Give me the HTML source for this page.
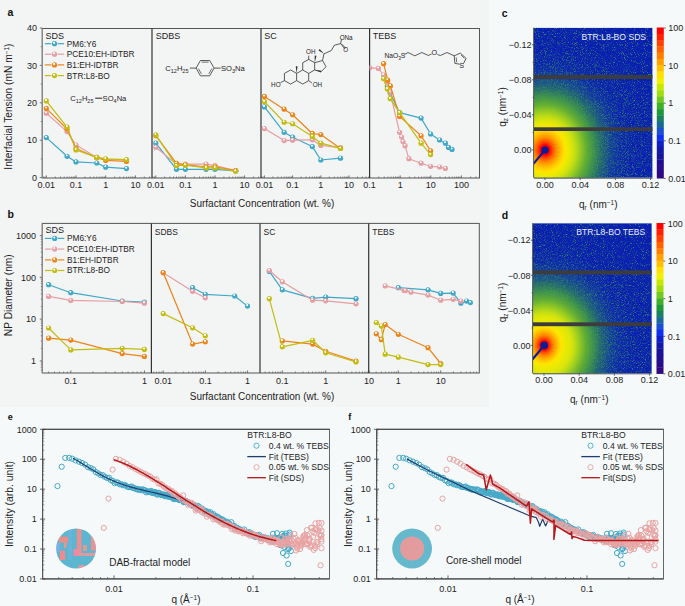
<!DOCTYPE html><html><head><meta charset="utf-8"><style>html,body{margin:0;padding:0;background:#f5f9fa;}svg{display:block;font-family:"Liberation Sans", sans-serif;}</style></head><body>
<svg width="685" height="606" viewBox="0 0 685 606">
<defs>
<radialGradient id="gb" cx="0.45" cy="0.38" r="0.62" fx="0.42" fy="0.3"><stop offset="0" stop-color="#ffffff"/><stop offset="0.22" stop-color="#ffffff" stop-opacity="0.9"/><stop offset="0.38" stop-color="#3fa8c9" stop-opacity="0.9"/><stop offset="0.55" stop-color="#3fa8c9"/><stop offset="1" stop-color="#3fa8c9"/></radialGradient>
<radialGradient id="gp" cx="0.45" cy="0.38" r="0.62" fx="0.42" fy="0.3"><stop offset="0" stop-color="#ffffff"/><stop offset="0.22" stop-color="#ffffff" stop-opacity="0.9"/><stop offset="0.38" stop-color="#e69ea3" stop-opacity="0.9"/><stop offset="0.55" stop-color="#e69ea3"/><stop offset="1" stop-color="#e69ea3"/></radialGradient>
<radialGradient id="go" cx="0.45" cy="0.38" r="0.62" fx="0.42" fy="0.3"><stop offset="0" stop-color="#ffffff"/><stop offset="0.22" stop-color="#ffffff" stop-opacity="0.9"/><stop offset="0.38" stop-color="#ee8419" stop-opacity="0.9"/><stop offset="0.55" stop-color="#ee8419"/><stop offset="1" stop-color="#ee8419"/></radialGradient>
<radialGradient id="gy" cx="0.45" cy="0.38" r="0.62" fx="0.42" fy="0.3"><stop offset="0" stop-color="#ffffff"/><stop offset="0.22" stop-color="#ffffff" stop-opacity="0.9"/><stop offset="0.38" stop-color="#c2bd10" stop-opacity="0.9"/><stop offset="0.55" stop-color="#c2bd10"/><stop offset="1" stop-color="#c2bd10"/></radialGradient>
</defs>
<rect x="0" y="0" width="685" height="606" fill="#f5f9fa"/>
<rect x="0" y="0" width="489" height="407" fill="#f3f4f4"/>
<text x="7.6" y="16.38" font-size="10.5" text-anchor="start" fill="#111" font-weight="bold">a</text>
<line x1="39.8" y1="177.6" x2="42.3" y2="177.6" stroke="#555" stroke-width="0.8"/>
<text x="37" y="180.84" font-size="9" text-anchor="end" fill="#1e1e1e">0</text>
<line x1="39.8" y1="140.2" x2="42.3" y2="140.2" stroke="#555" stroke-width="0.8"/>
<text x="37" y="143.44" font-size="9" text-anchor="end" fill="#1e1e1e">10</text>
<line x1="39.8" y1="102.8" x2="42.3" y2="102.8" stroke="#555" stroke-width="0.8"/>
<text x="37" y="106.04" font-size="9" text-anchor="end" fill="#1e1e1e">20</text>
<line x1="39.8" y1="65.4" x2="42.3" y2="65.4" stroke="#555" stroke-width="0.8"/>
<text x="37" y="68.64" font-size="9" text-anchor="end" fill="#1e1e1e">30</text>
<line x1="39.8" y1="28" x2="42.3" y2="28" stroke="#555" stroke-width="0.8"/>
<text x="37" y="31.24" font-size="9" text-anchor="end" fill="#1e1e1e">40</text>
<line x1="40.8" y1="158.9" x2="42.3" y2="158.9" stroke="#555" stroke-width="0.8"/>
<line x1="40.8" y1="121.5" x2="42.3" y2="121.5" stroke="#555" stroke-width="0.8"/>
<line x1="40.8" y1="84.1" x2="42.3" y2="84.1" stroke="#555" stroke-width="0.8"/>
<line x1="40.8" y1="46.7" x2="42.3" y2="46.7" stroke="#555" stroke-width="0.8"/>
<line x1="46.3" y1="178" x2="46.3" y2="175.4" stroke="#555" stroke-width="0.8"/>
<text x="46.3" y="188.24" font-size="9" text-anchor="middle" fill="#1e1e1e">0.01</text>
<line x1="76" y1="178" x2="76" y2="175.4" stroke="#555" stroke-width="0.8"/>
<text x="76" y="188.24" font-size="9" text-anchor="middle" fill="#1e1e1e">0.1</text>
<line x1="105.7" y1="178" x2="105.7" y2="175.4" stroke="#555" stroke-width="0.8"/>
<text x="105.7" y="188.24" font-size="9" text-anchor="middle" fill="#1e1e1e">1</text>
<line x1="135.4" y1="178" x2="135.4" y2="175.4" stroke="#555" stroke-width="0.8"/>
<text x="135.4" y="188.24" font-size="9" text-anchor="middle" fill="#1e1e1e">10</text>
<line x1="43.42" y1="178" x2="43.42" y2="176.5" stroke="#555" stroke-width="0.7"/>
<line x1="44.94" y1="178" x2="44.94" y2="176.5" stroke="#555" stroke-width="0.7"/>
<line x1="55.24" y1="178" x2="55.24" y2="176.5" stroke="#555" stroke-width="0.7"/>
<line x1="60.47" y1="178" x2="60.47" y2="176.5" stroke="#555" stroke-width="0.7"/>
<line x1="64.18" y1="178" x2="64.18" y2="176.5" stroke="#555" stroke-width="0.7"/>
<line x1="67.06" y1="178" x2="67.06" y2="176.5" stroke="#555" stroke-width="0.7"/>
<line x1="69.41" y1="178" x2="69.41" y2="176.5" stroke="#555" stroke-width="0.7"/>
<line x1="71.4" y1="178" x2="71.4" y2="176.5" stroke="#555" stroke-width="0.7"/>
<line x1="73.12" y1="178" x2="73.12" y2="176.5" stroke="#555" stroke-width="0.7"/>
<line x1="74.64" y1="178" x2="74.64" y2="176.5" stroke="#555" stroke-width="0.7"/>
<line x1="84.94" y1="178" x2="84.94" y2="176.5" stroke="#555" stroke-width="0.7"/>
<line x1="90.17" y1="178" x2="90.17" y2="176.5" stroke="#555" stroke-width="0.7"/>
<line x1="93.88" y1="178" x2="93.88" y2="176.5" stroke="#555" stroke-width="0.7"/>
<line x1="96.76" y1="178" x2="96.76" y2="176.5" stroke="#555" stroke-width="0.7"/>
<line x1="99.11" y1="178" x2="99.11" y2="176.5" stroke="#555" stroke-width="0.7"/>
<line x1="101.1" y1="178" x2="101.1" y2="176.5" stroke="#555" stroke-width="0.7"/>
<line x1="102.82" y1="178" x2="102.82" y2="176.5" stroke="#555" stroke-width="0.7"/>
<line x1="104.34" y1="178" x2="104.34" y2="176.5" stroke="#555" stroke-width="0.7"/>
<line x1="114.64" y1="178" x2="114.64" y2="176.5" stroke="#555" stroke-width="0.7"/>
<line x1="119.87" y1="178" x2="119.87" y2="176.5" stroke="#555" stroke-width="0.7"/>
<line x1="123.58" y1="178" x2="123.58" y2="176.5" stroke="#555" stroke-width="0.7"/>
<line x1="126.46" y1="178" x2="126.46" y2="176.5" stroke="#555" stroke-width="0.7"/>
<line x1="128.81" y1="178" x2="128.81" y2="176.5" stroke="#555" stroke-width="0.7"/>
<line x1="130.8" y1="178" x2="130.8" y2="176.5" stroke="#555" stroke-width="0.7"/>
<line x1="132.52" y1="178" x2="132.52" y2="176.5" stroke="#555" stroke-width="0.7"/>
<line x1="134.04" y1="178" x2="134.04" y2="176.5" stroke="#555" stroke-width="0.7"/>
<line x1="144.34" y1="178" x2="144.34" y2="176.5" stroke="#555" stroke-width="0.7"/>
<line x1="149.57" y1="178" x2="149.57" y2="176.5" stroke="#555" stroke-width="0.7"/>
<line x1="155.8" y1="178" x2="155.8" y2="175.4" stroke="#555" stroke-width="0.8"/>
<text x="155.8" y="188.24" font-size="9" text-anchor="middle" fill="#1e1e1e">0.01</text>
<line x1="185.4" y1="178" x2="185.4" y2="175.4" stroke="#555" stroke-width="0.8"/>
<text x="185.4" y="188.24" font-size="9" text-anchor="middle" fill="#1e1e1e">0.1</text>
<line x1="215" y1="178" x2="215" y2="175.4" stroke="#555" stroke-width="0.8"/>
<text x="215" y="188.24" font-size="9" text-anchor="middle" fill="#1e1e1e">1</text>
<line x1="244.6" y1="178" x2="244.6" y2="175.4" stroke="#555" stroke-width="0.8"/>
<text x="244.6" y="188.24" font-size="9" text-anchor="middle" fill="#1e1e1e">10</text>
<line x1="152.93" y1="178" x2="152.93" y2="176.5" stroke="#555" stroke-width="0.7"/>
<line x1="154.45" y1="178" x2="154.45" y2="176.5" stroke="#555" stroke-width="0.7"/>
<line x1="164.71" y1="178" x2="164.71" y2="176.5" stroke="#555" stroke-width="0.7"/>
<line x1="169.92" y1="178" x2="169.92" y2="176.5" stroke="#555" stroke-width="0.7"/>
<line x1="173.62" y1="178" x2="173.62" y2="176.5" stroke="#555" stroke-width="0.7"/>
<line x1="176.49" y1="178" x2="176.49" y2="176.5" stroke="#555" stroke-width="0.7"/>
<line x1="178.83" y1="178" x2="178.83" y2="176.5" stroke="#555" stroke-width="0.7"/>
<line x1="180.81" y1="178" x2="180.81" y2="176.5" stroke="#555" stroke-width="0.7"/>
<line x1="182.53" y1="178" x2="182.53" y2="176.5" stroke="#555" stroke-width="0.7"/>
<line x1="184.05" y1="178" x2="184.05" y2="176.5" stroke="#555" stroke-width="0.7"/>
<line x1="194.31" y1="178" x2="194.31" y2="176.5" stroke="#555" stroke-width="0.7"/>
<line x1="199.52" y1="178" x2="199.52" y2="176.5" stroke="#555" stroke-width="0.7"/>
<line x1="203.22" y1="178" x2="203.22" y2="176.5" stroke="#555" stroke-width="0.7"/>
<line x1="206.09" y1="178" x2="206.09" y2="176.5" stroke="#555" stroke-width="0.7"/>
<line x1="208.43" y1="178" x2="208.43" y2="176.5" stroke="#555" stroke-width="0.7"/>
<line x1="210.41" y1="178" x2="210.41" y2="176.5" stroke="#555" stroke-width="0.7"/>
<line x1="212.13" y1="178" x2="212.13" y2="176.5" stroke="#555" stroke-width="0.7"/>
<line x1="213.65" y1="178" x2="213.65" y2="176.5" stroke="#555" stroke-width="0.7"/>
<line x1="223.91" y1="178" x2="223.91" y2="176.5" stroke="#555" stroke-width="0.7"/>
<line x1="229.12" y1="178" x2="229.12" y2="176.5" stroke="#555" stroke-width="0.7"/>
<line x1="232.82" y1="178" x2="232.82" y2="176.5" stroke="#555" stroke-width="0.7"/>
<line x1="235.69" y1="178" x2="235.69" y2="176.5" stroke="#555" stroke-width="0.7"/>
<line x1="238.03" y1="178" x2="238.03" y2="176.5" stroke="#555" stroke-width="0.7"/>
<line x1="240.01" y1="178" x2="240.01" y2="176.5" stroke="#555" stroke-width="0.7"/>
<line x1="241.73" y1="178" x2="241.73" y2="176.5" stroke="#555" stroke-width="0.7"/>
<line x1="243.25" y1="178" x2="243.25" y2="176.5" stroke="#555" stroke-width="0.7"/>
<line x1="253.51" y1="178" x2="253.51" y2="176.5" stroke="#555" stroke-width="0.7"/>
<line x1="258.72" y1="178" x2="258.72" y2="176.5" stroke="#555" stroke-width="0.7"/>
<line x1="264.4" y1="178" x2="264.4" y2="175.4" stroke="#555" stroke-width="0.8"/>
<text x="264.4" y="188.24" font-size="9" text-anchor="middle" fill="#1e1e1e">0.01</text>
<line x1="292.6" y1="178" x2="292.6" y2="175.4" stroke="#555" stroke-width="0.8"/>
<text x="292.6" y="188.24" font-size="9" text-anchor="middle" fill="#1e1e1e">0.1</text>
<line x1="320.8" y1="178" x2="320.8" y2="175.4" stroke="#555" stroke-width="0.8"/>
<text x="320.8" y="188.24" font-size="9" text-anchor="middle" fill="#1e1e1e">1</text>
<line x1="349" y1="178" x2="349" y2="175.4" stroke="#555" stroke-width="0.8"/>
<text x="349" y="188.24" font-size="9" text-anchor="middle" fill="#1e1e1e">10</text>
<line x1="261.67" y1="178" x2="261.67" y2="176.5" stroke="#555" stroke-width="0.7"/>
<line x1="263.11" y1="178" x2="263.11" y2="176.5" stroke="#555" stroke-width="0.7"/>
<line x1="272.89" y1="178" x2="272.89" y2="176.5" stroke="#555" stroke-width="0.7"/>
<line x1="277.85" y1="178" x2="277.85" y2="176.5" stroke="#555" stroke-width="0.7"/>
<line x1="281.38" y1="178" x2="281.38" y2="176.5" stroke="#555" stroke-width="0.7"/>
<line x1="284.11" y1="178" x2="284.11" y2="176.5" stroke="#555" stroke-width="0.7"/>
<line x1="286.34" y1="178" x2="286.34" y2="176.5" stroke="#555" stroke-width="0.7"/>
<line x1="288.23" y1="178" x2="288.23" y2="176.5" stroke="#555" stroke-width="0.7"/>
<line x1="289.87" y1="178" x2="289.87" y2="176.5" stroke="#555" stroke-width="0.7"/>
<line x1="291.31" y1="178" x2="291.31" y2="176.5" stroke="#555" stroke-width="0.7"/>
<line x1="301.09" y1="178" x2="301.09" y2="176.5" stroke="#555" stroke-width="0.7"/>
<line x1="306.05" y1="178" x2="306.05" y2="176.5" stroke="#555" stroke-width="0.7"/>
<line x1="309.58" y1="178" x2="309.58" y2="176.5" stroke="#555" stroke-width="0.7"/>
<line x1="312.31" y1="178" x2="312.31" y2="176.5" stroke="#555" stroke-width="0.7"/>
<line x1="314.54" y1="178" x2="314.54" y2="176.5" stroke="#555" stroke-width="0.7"/>
<line x1="316.43" y1="178" x2="316.43" y2="176.5" stroke="#555" stroke-width="0.7"/>
<line x1="318.07" y1="178" x2="318.07" y2="176.5" stroke="#555" stroke-width="0.7"/>
<line x1="319.51" y1="178" x2="319.51" y2="176.5" stroke="#555" stroke-width="0.7"/>
<line x1="329.29" y1="178" x2="329.29" y2="176.5" stroke="#555" stroke-width="0.7"/>
<line x1="334.25" y1="178" x2="334.25" y2="176.5" stroke="#555" stroke-width="0.7"/>
<line x1="337.78" y1="178" x2="337.78" y2="176.5" stroke="#555" stroke-width="0.7"/>
<line x1="340.51" y1="178" x2="340.51" y2="176.5" stroke="#555" stroke-width="0.7"/>
<line x1="342.74" y1="178" x2="342.74" y2="176.5" stroke="#555" stroke-width="0.7"/>
<line x1="344.63" y1="178" x2="344.63" y2="176.5" stroke="#555" stroke-width="0.7"/>
<line x1="346.27" y1="178" x2="346.27" y2="176.5" stroke="#555" stroke-width="0.7"/>
<line x1="347.71" y1="178" x2="347.71" y2="176.5" stroke="#555" stroke-width="0.7"/>
<line x1="357.49" y1="178" x2="357.49" y2="176.5" stroke="#555" stroke-width="0.7"/>
<line x1="362.45" y1="178" x2="362.45" y2="176.5" stroke="#555" stroke-width="0.7"/>
<line x1="365.98" y1="178" x2="365.98" y2="176.5" stroke="#555" stroke-width="0.7"/>
<line x1="368.71" y1="178" x2="368.71" y2="176.5" stroke="#555" stroke-width="0.7"/>
<line x1="369.6" y1="178" x2="369.6" y2="175.4" stroke="#555" stroke-width="0.8"/>
<text x="369.6" y="188.24" font-size="9" text-anchor="middle" fill="#1e1e1e">0.1</text>
<line x1="400.2" y1="178" x2="400.2" y2="175.4" stroke="#555" stroke-width="0.8"/>
<text x="400.2" y="188.24" font-size="9" text-anchor="middle" fill="#1e1e1e">1</text>
<line x1="430.8" y1="178" x2="430.8" y2="175.4" stroke="#555" stroke-width="0.8"/>
<text x="430.8" y="188.24" font-size="9" text-anchor="middle" fill="#1e1e1e">10</text>
<line x1="461.4" y1="178" x2="461.4" y2="175.4" stroke="#555" stroke-width="0.8"/>
<text x="461.4" y="188.24" font-size="9" text-anchor="middle" fill="#1e1e1e">100</text>
<line x1="378.81" y1="178" x2="378.81" y2="176.5" stroke="#555" stroke-width="0.7"/>
<line x1="384.2" y1="178" x2="384.2" y2="176.5" stroke="#555" stroke-width="0.7"/>
<line x1="388.02" y1="178" x2="388.02" y2="176.5" stroke="#555" stroke-width="0.7"/>
<line x1="390.99" y1="178" x2="390.99" y2="176.5" stroke="#555" stroke-width="0.7"/>
<line x1="393.41" y1="178" x2="393.41" y2="176.5" stroke="#555" stroke-width="0.7"/>
<line x1="395.46" y1="178" x2="395.46" y2="176.5" stroke="#555" stroke-width="0.7"/>
<line x1="397.23" y1="178" x2="397.23" y2="176.5" stroke="#555" stroke-width="0.7"/>
<line x1="398.8" y1="178" x2="398.8" y2="176.5" stroke="#555" stroke-width="0.7"/>
<line x1="409.41" y1="178" x2="409.41" y2="176.5" stroke="#555" stroke-width="0.7"/>
<line x1="414.8" y1="178" x2="414.8" y2="176.5" stroke="#555" stroke-width="0.7"/>
<line x1="418.62" y1="178" x2="418.62" y2="176.5" stroke="#555" stroke-width="0.7"/>
<line x1="421.59" y1="178" x2="421.59" y2="176.5" stroke="#555" stroke-width="0.7"/>
<line x1="424.01" y1="178" x2="424.01" y2="176.5" stroke="#555" stroke-width="0.7"/>
<line x1="426.06" y1="178" x2="426.06" y2="176.5" stroke="#555" stroke-width="0.7"/>
<line x1="427.83" y1="178" x2="427.83" y2="176.5" stroke="#555" stroke-width="0.7"/>
<line x1="429.4" y1="178" x2="429.4" y2="176.5" stroke="#555" stroke-width="0.7"/>
<line x1="440.01" y1="178" x2="440.01" y2="176.5" stroke="#555" stroke-width="0.7"/>
<line x1="445.4" y1="178" x2="445.4" y2="176.5" stroke="#555" stroke-width="0.7"/>
<line x1="449.22" y1="178" x2="449.22" y2="176.5" stroke="#555" stroke-width="0.7"/>
<line x1="452.19" y1="178" x2="452.19" y2="176.5" stroke="#555" stroke-width="0.7"/>
<line x1="454.61" y1="178" x2="454.61" y2="176.5" stroke="#555" stroke-width="0.7"/>
<line x1="456.66" y1="178" x2="456.66" y2="176.5" stroke="#555" stroke-width="0.7"/>
<line x1="458.43" y1="178" x2="458.43" y2="176.5" stroke="#555" stroke-width="0.7"/>
<line x1="460" y1="178" x2="460" y2="176.5" stroke="#555" stroke-width="0.7"/>
<line x1="470.61" y1="178" x2="470.61" y2="176.5" stroke="#555" stroke-width="0.7"/>
<line x1="476" y1="178" x2="476" y2="176.5" stroke="#555" stroke-width="0.7"/>
<rect x="42.3" y="28.5" width="437.2" height="149.5" fill="none" stroke="#555" stroke-width="1"/>
<line x1="152" y1="28.5" x2="152" y2="178" stroke="#333" stroke-width="1.2"/>
<line x1="261" y1="28.5" x2="261" y2="178" stroke="#333" stroke-width="1.2"/>
<line x1="369.6" y1="28.5" x2="369.6" y2="178" stroke="#333" stroke-width="1.2"/>
<line x1="42.3" y1="28.5" x2="42.3" y2="178" stroke="#8a8a8a" stroke-width="1.3"/>
<text x="262" y="206.6" font-size="10" text-anchor="middle" fill="#1e1e1e">Surfactant Concentration (wt. %)</text>
<text transform="translate(12.4,106.6) rotate(-90)" font-size="10.2" text-anchor="middle" fill="#1e1e1e">Interfacial Tension (mN m<tspan dy="-3" font-size="6.5">−1</tspan><tspan dy="3">)</tspan></text>
<text x="45.6" y="38.54" font-size="9" text-anchor="start" fill="#1e1e1e">SDS</text>
<text x="155.8" y="38.54" font-size="9" text-anchor="start" fill="#1e1e1e">SDBS</text>
<text x="264.3" y="38.54" font-size="9" text-anchor="start" fill="#1e1e1e">SC</text>
<text x="372.8" y="38.54" font-size="9" text-anchor="start" fill="#1e1e1e">TEBS</text>
<line x1="44.8" y1="43.7" x2="51.3" y2="43.7" stroke="#3fa8c9" stroke-width="1.2"/>
<line x1="57.6" y1="43.7" x2="64.1" y2="43.7" stroke="#3fa8c9" stroke-width="1.2"/>
<circle cx="54.5" cy="43.7" r="2.6" fill="url(#gb)"/>
<text x="66.8" y="46.69" font-size="8.3" text-anchor="start" fill="#1e1e1e">PM6:Y6</text>
<line x1="44.8" y1="54.2" x2="51.3" y2="54.2" stroke="#e69ea3" stroke-width="1.2"/>
<line x1="57.6" y1="54.2" x2="64.1" y2="54.2" stroke="#e69ea3" stroke-width="1.2"/>
<circle cx="54.5" cy="54.2" r="2.6" fill="url(#gp)"/>
<text x="66.8" y="57.19" font-size="8.3" text-anchor="start" fill="#1e1e1e">PCE10:EH-IDTBR</text>
<line x1="44.8" y1="64.9" x2="51.3" y2="64.9" stroke="#ee8419" stroke-width="1.2"/>
<line x1="57.6" y1="64.9" x2="64.1" y2="64.9" stroke="#ee8419" stroke-width="1.2"/>
<circle cx="54.5" cy="64.9" r="2.6" fill="url(#go)"/>
<text x="66.8" y="67.89" font-size="8.3" text-anchor="start" fill="#1e1e1e">B1:EH-IDTBR</text>
<line x1="44.8" y1="75.6" x2="51.3" y2="75.6" stroke="#c2bd10" stroke-width="1.2"/>
<line x1="57.6" y1="75.6" x2="64.1" y2="75.6" stroke="#c2bd10" stroke-width="1.2"/>
<circle cx="54.5" cy="75.6" r="2.6" fill="url(#gy)"/>
<text x="66.8" y="78.59" font-size="8.3" text-anchor="start" fill="#1e1e1e">BTR:L8-BO</text>
<polyline fill="none" stroke="#3fa8c9" stroke-width="1.2" stroke-linejoin="round" points="46.3,137.58 67.06,156.28 76,161.89 96.76,163.01 105.7,167.13 126.46,168.62"/>
<circle cx="46.3" cy="137.58" r="2.6" fill="url(#gb)"/>
<circle cx="67.06" cy="156.28" r="2.6" fill="url(#gb)"/>
<circle cx="76" cy="161.89" r="2.6" fill="url(#gb)"/>
<circle cx="96.76" cy="163.01" r="2.6" fill="url(#gb)"/>
<circle cx="105.7" cy="167.13" r="2.6" fill="url(#gb)"/>
<circle cx="126.46" cy="168.62" r="2.6" fill="url(#gb)"/>
<polyline fill="none" stroke="#e69ea3" stroke-width="1.2" stroke-linejoin="round" points="46.3,113.27 67.06,131.6 76,145.06 96.76,157.4 105.7,159.27 126.46,160.4"/>
<circle cx="46.3" cy="113.27" r="2.6" fill="url(#gp)"/>
<circle cx="67.06" cy="131.6" r="2.6" fill="url(#gp)"/>
<circle cx="76" cy="145.06" r="2.6" fill="url(#gp)"/>
<circle cx="96.76" cy="157.4" r="2.6" fill="url(#gp)"/>
<circle cx="105.7" cy="159.27" r="2.6" fill="url(#gp)"/>
<circle cx="126.46" cy="160.4" r="2.6" fill="url(#gp)"/>
<polyline fill="none" stroke="#ee8419" stroke-width="1.2" stroke-linejoin="round" points="46.3,108.41 67.06,128.98 76,148.43 96.76,157.78 105.7,160.4 126.46,161.52"/>
<circle cx="46.3" cy="108.41" r="2.6" fill="url(#go)"/>
<circle cx="67.06" cy="128.98" r="2.6" fill="url(#go)"/>
<circle cx="76" cy="148.43" r="2.6" fill="url(#go)"/>
<circle cx="96.76" cy="157.78" r="2.6" fill="url(#go)"/>
<circle cx="105.7" cy="160.4" r="2.6" fill="url(#go)"/>
<circle cx="126.46" cy="161.52" r="2.6" fill="url(#go)"/>
<polyline fill="none" stroke="#c2bd10" stroke-width="1.2" stroke-linejoin="round" points="46.3,100.93 67.06,127.11 76,149.92 96.76,157.4 105.7,158.9 126.46,159.65"/>
<circle cx="46.3" cy="100.93" r="2.6" fill="url(#gy)"/>
<circle cx="67.06" cy="127.11" r="2.6" fill="url(#gy)"/>
<circle cx="76" cy="149.92" r="2.6" fill="url(#gy)"/>
<circle cx="96.76" cy="157.4" r="2.6" fill="url(#gy)"/>
<circle cx="105.7" cy="158.9" r="2.6" fill="url(#gy)"/>
<circle cx="126.46" cy="159.65" r="2.6" fill="url(#gy)"/>
<polyline fill="none" stroke="#3fa8c9" stroke-width="1.2" stroke-linejoin="round" points="155.8,143.19 176.49,169.37 185.4,169.37 206.09,169.37 215,169.37 235.69,170.87"/>
<circle cx="155.8" cy="143.19" r="2.6" fill="url(#gb)"/>
<circle cx="176.49" cy="169.37" r="2.6" fill="url(#gb)"/>
<circle cx="185.4" cy="169.37" r="2.6" fill="url(#gb)"/>
<circle cx="206.09" cy="169.37" r="2.6" fill="url(#gb)"/>
<circle cx="215" cy="169.37" r="2.6" fill="url(#gb)"/>
<circle cx="235.69" cy="170.87" r="2.6" fill="url(#gb)"/>
<polyline fill="none" stroke="#e69ea3" stroke-width="1.2" stroke-linejoin="round" points="155.8,147.31 176.49,164.14 185.4,164.14 206.09,164.14 215,165.63 235.69,170.49"/>
<circle cx="155.8" cy="147.31" r="2.6" fill="url(#gp)"/>
<circle cx="176.49" cy="164.14" r="2.6" fill="url(#gp)"/>
<circle cx="185.4" cy="164.14" r="2.6" fill="url(#gp)"/>
<circle cx="206.09" cy="164.14" r="2.6" fill="url(#gp)"/>
<circle cx="215" cy="165.63" r="2.6" fill="url(#gp)"/>
<circle cx="235.69" cy="170.49" r="2.6" fill="url(#gp)"/>
<polyline fill="none" stroke="#ee8419" stroke-width="1.2" stroke-linejoin="round" points="155.8,135.71 176.49,163.39 185.4,164.88 206.09,166.75 215,166.75 235.69,170.49"/>
<circle cx="155.8" cy="135.71" r="2.6" fill="url(#go)"/>
<circle cx="176.49" cy="163.39" r="2.6" fill="url(#go)"/>
<circle cx="185.4" cy="164.88" r="2.6" fill="url(#go)"/>
<circle cx="206.09" cy="166.75" r="2.6" fill="url(#go)"/>
<circle cx="215" cy="166.75" r="2.6" fill="url(#go)"/>
<circle cx="235.69" cy="170.49" r="2.6" fill="url(#go)"/>
<polyline fill="none" stroke="#c2bd10" stroke-width="1.2" stroke-linejoin="round" points="155.8,134.96 176.49,165.63 185.4,165.26 206.09,167.88 215,167.88 235.69,171.24"/>
<circle cx="155.8" cy="134.96" r="2.6" fill="url(#gy)"/>
<circle cx="176.49" cy="165.63" r="2.6" fill="url(#gy)"/>
<circle cx="185.4" cy="165.26" r="2.6" fill="url(#gy)"/>
<circle cx="206.09" cy="167.88" r="2.6" fill="url(#gy)"/>
<circle cx="215" cy="167.88" r="2.6" fill="url(#gy)"/>
<circle cx="235.69" cy="171.24" r="2.6" fill="url(#gy)"/>
<polyline fill="none" stroke="#3fa8c9" stroke-width="1.2" stroke-linejoin="round" points="264.4,106.91 284.11,132.35 292.6,137.21 312.31,146.56 320.8,160.02 340.51,158.15"/>
<circle cx="264.4" cy="106.91" r="2.6" fill="url(#gb)"/>
<circle cx="284.11" cy="132.35" r="2.6" fill="url(#gb)"/>
<circle cx="292.6" cy="137.21" r="2.6" fill="url(#gb)"/>
<circle cx="312.31" cy="146.56" r="2.6" fill="url(#gb)"/>
<circle cx="320.8" cy="160.02" r="2.6" fill="url(#gb)"/>
<circle cx="340.51" cy="158.15" r="2.6" fill="url(#gb)"/>
<polyline fill="none" stroke="#e69ea3" stroke-width="1.2" stroke-linejoin="round" points="264.4,128.61 284.11,140.57 292.6,140.2 312.31,139.83 320.8,145.44 340.51,147.68"/>
<circle cx="264.4" cy="128.61" r="2.6" fill="url(#gp)"/>
<circle cx="284.11" cy="140.57" r="2.6" fill="url(#gp)"/>
<circle cx="292.6" cy="140.2" r="2.6" fill="url(#gp)"/>
<circle cx="312.31" cy="139.83" r="2.6" fill="url(#gp)"/>
<circle cx="320.8" cy="145.44" r="2.6" fill="url(#gp)"/>
<circle cx="340.51" cy="147.68" r="2.6" fill="url(#gp)"/>
<polyline fill="none" stroke="#ee8419" stroke-width="1.2" stroke-linejoin="round" points="264.4,96.44 284.11,109.16 292.6,114.77 312.31,133.47 320.8,134.59 340.51,148.43"/>
<circle cx="264.4" cy="96.44" r="2.6" fill="url(#go)"/>
<circle cx="284.11" cy="109.16" r="2.6" fill="url(#go)"/>
<circle cx="292.6" cy="114.77" r="2.6" fill="url(#go)"/>
<circle cx="312.31" cy="133.47" r="2.6" fill="url(#go)"/>
<circle cx="320.8" cy="134.59" r="2.6" fill="url(#go)"/>
<circle cx="340.51" cy="148.43" r="2.6" fill="url(#go)"/>
<polyline fill="none" stroke="#c2bd10" stroke-width="1.2" stroke-linejoin="round" points="264.4,101.68 284.11,122.25 292.6,123.74 312.31,136.46 320.8,143.19 340.51,148.43"/>
<circle cx="264.4" cy="101.68" r="2.6" fill="url(#gy)"/>
<circle cx="284.11" cy="122.25" r="2.6" fill="url(#gy)"/>
<circle cx="292.6" cy="123.74" r="2.6" fill="url(#gy)"/>
<circle cx="312.31" cy="136.46" r="2.6" fill="url(#gy)"/>
<circle cx="320.8" cy="143.19" r="2.6" fill="url(#gy)"/>
<circle cx="340.51" cy="148.43" r="2.6" fill="url(#gy)"/>
<defs><clipPath id="clipA4"><rect x="369.6" y="28.5" width="110" height="150"/></clipPath></defs>
<g clip-path="url(#clipA4)">
<polyline fill="none" stroke="#3fa8c9" stroke-width="1.2" stroke-linejoin="round" points="387.3,86 390.2,93 399.6,112.7 421.1,118.1 430.6,134 439.6,140 445.4,143.2 448.5,147.4 452,149.4"/>
<circle cx="387.3" cy="86" r="2.6" fill="url(#gb)"/>
<circle cx="390.2" cy="93" r="2.6" fill="url(#gb)"/>
<circle cx="399.6" cy="112.7" r="2.6" fill="url(#gb)"/>
<circle cx="421.1" cy="118.1" r="2.6" fill="url(#gb)"/>
<circle cx="430.6" cy="134" r="2.6" fill="url(#gb)"/>
<circle cx="439.6" cy="140" r="2.6" fill="url(#gb)"/>
<circle cx="445.4" cy="143.2" r="2.6" fill="url(#gb)"/>
<circle cx="448.5" cy="147.4" r="2.6" fill="url(#gb)"/>
<circle cx="452" cy="149.4" r="2.6" fill="url(#gb)"/>
<polyline fill="none" stroke="#e69ea3" stroke-width="1.2" stroke-linejoin="round" points="369.8,67.8 378.4,68.4 383.6,75 387,82 390,92 399.6,132.3 401.6,137 403,141.6 405,145.7 408.9,158.7 421.1,163.2 430.6,166.3 439.6,167 445.4,168.4"/>
<circle cx="369.8" cy="67.8" r="2.6" fill="url(#gp)"/>
<circle cx="378.4" cy="68.4" r="2.6" fill="url(#gp)"/>
<circle cx="383.6" cy="75" r="2.6" fill="url(#gp)"/>
<circle cx="387" cy="82" r="2.6" fill="url(#gp)"/>
<circle cx="390" cy="92" r="2.6" fill="url(#gp)"/>
<circle cx="399.6" cy="132.3" r="2.6" fill="url(#gp)"/>
<circle cx="401.6" cy="137" r="2.6" fill="url(#gp)"/>
<circle cx="403" cy="141.6" r="2.6" fill="url(#gp)"/>
<circle cx="405" cy="145.7" r="2.6" fill="url(#gp)"/>
<circle cx="408.9" cy="158.7" r="2.6" fill="url(#gp)"/>
<circle cx="421.1" cy="163.2" r="2.6" fill="url(#gp)"/>
<circle cx="430.6" cy="166.3" r="2.6" fill="url(#gp)"/>
<circle cx="439.6" cy="167" r="2.6" fill="url(#gp)"/>
<circle cx="445.4" cy="168.4" r="2.6" fill="url(#gp)"/>
<polyline fill="none" stroke="#ee8419" stroke-width="1.2" stroke-linejoin="round" points="383.6,63.7 387.7,80.2 390.4,85.9 399.6,116.4 421.1,135.8 430.6,150.9"/>
<circle cx="383.6" cy="63.7" r="2.6" fill="url(#go)"/>
<circle cx="387.7" cy="80.2" r="2.6" fill="url(#go)"/>
<circle cx="390.4" cy="85.9" r="2.6" fill="url(#go)"/>
<circle cx="399.6" cy="116.4" r="2.6" fill="url(#go)"/>
<circle cx="421.1" cy="135.8" r="2.6" fill="url(#go)"/>
<circle cx="430.6" cy="150.9" r="2.6" fill="url(#go)"/>
<polyline fill="none" stroke="#c2bd10" stroke-width="1.2" stroke-linejoin="round" points="383.6,78.7 387.3,89 390.2,98.7 399.6,112.7 421.1,143.2 430.6,154.6"/>
<circle cx="383.6" cy="78.7" r="2.6" fill="url(#gy)"/>
<circle cx="387.3" cy="89" r="2.6" fill="url(#gy)"/>
<circle cx="390.2" cy="98.7" r="2.6" fill="url(#gy)"/>
<circle cx="399.6" cy="112.7" r="2.6" fill="url(#gy)"/>
<circle cx="421.1" cy="143.2" r="2.6" fill="url(#gy)"/>
<circle cx="430.6" cy="154.6" r="2.6" fill="url(#gy)"/>
</g>
<text x="70.3" y="100.94" font-size="7.6" fill="#1e1e1e">C<tspan font-size="5.47" dy="1.9">12</tspan><tspan dy="-1.9">​</tspan>H<tspan font-size="5.47" dy="1.9">25</tspan><tspan dy="-1.9">​</tspan></text>
<line x1="95.2" y1="98.2" x2="102.2" y2="98.2" stroke="#222" stroke-width="1"/>
<text x="102.6" y="100.94" font-size="7.6" fill="#1e1e1e">SO<tspan font-size="5.47" dy="1.9">4</tspan><tspan dy="-1.9">​</tspan>Na</text>
<text x="165.3" y="71.34" font-size="7.6" fill="#1e1e1e">C<tspan font-size="5.47" dy="1.9">12</tspan><tspan dy="-1.9">​</tspan>H<tspan font-size="5.47" dy="1.9">25</tspan><tspan dy="-1.9">​</tspan></text>
<polyline fill="none" stroke="#333" stroke-width="0.8" stroke-linejoin="round" points="196.1,68.1 200.4,60.5 209.7,60.5 214.1,68.1 209.7,75.8 200.4,75.8 196.1,68.1"/>
<line x1="201.6" y1="62.1" x2="208.5" y2="62.1" stroke="#333" stroke-width="0.7"/>
<line x1="198.4" y1="68.6" x2="201.4" y2="73.9" stroke="#333" stroke-width="0.7"/>
<line x1="211.8" y1="68.6" x2="208.8" y2="73.9" stroke="#333" stroke-width="0.7"/>
<line x1="189.8" y1="68.1" x2="196.1" y2="68.1" stroke="#333" stroke-width="0.8"/>
<line x1="214.1" y1="68.1" x2="220.6" y2="68.1" stroke="#333" stroke-width="0.8"/>
<text x="221" y="71.34" font-size="7.6" fill="#1e1e1e">SO<tspan font-size="5.47" dy="1.9">3</tspan><tspan dy="-1.9">​</tspan>Na</text>
<polyline fill="none" stroke="#333" stroke-width="0.8" stroke-linejoin="round" points="290.66,69.94 296.62,73.41 296.62,80.62 290.66,84.09 284.42,80.62 284.42,73.41 290.66,69.94"/>
<polyline fill="none" stroke="#333" stroke-width="0.8" stroke-linejoin="round" points="296.62,73.41 302.73,69.94 308.69,73.41 308.69,80.62 302.73,84.09 296.62,80.62"/>
<polyline fill="none" stroke="#333" stroke-width="0.8" stroke-linejoin="round" points="302.73,69.94 302.73,62.73 308.69,59.4 314.65,62.73 314.65,69.94 308.69,73.41"/>
<polyline fill="none" stroke="#333" stroke-width="0.8" stroke-linejoin="round" points="314.65,62.73 322.56,60.51 326.03,66.75 321.17,71.61 314.65,69.94"/>
<polyline fill="none" stroke="#333" stroke-width="0.8" stroke-linejoin="round" points="322.56,60.51 323.95,53.86 331.3,50.53 334.35,45.26 340.59,43.59 341.56,39.43"/>
<polyline fill="none" stroke="#333" stroke-width="0.8" stroke-linejoin="round" points="340.59,43.59 344.75,48.72"/>
<polyline fill="none" stroke="#333" stroke-width="0.8" stroke-linejoin="round" points="284.42,80.62 280.53,82.7"/>
<polyline fill="none" stroke="#333" stroke-width="0.8" stroke-linejoin="round" points="308.69,80.62 311.88,82.98"/>
<polyline fill="none" stroke="#333" stroke-width="0.8" stroke-linejoin="round" points="308.69,59.4 308.69,55.66"/>
<line x1="341.56" y1="44.15" x2="345.72" y2="48.03" stroke="#333" stroke-width="0.8"/>
<polygon points="296.62,73.41 297.52,66.34 295.72,66.34" fill="#333"/>
<polygon points="314.65,62.73 316.52,55.78 314.73,55.54" fill="#333"/>
<polygon points="323.95,53.86 319.68,49.01 318.51,50.38" fill="#333"/>
<polygon points="314.65,69.94 320.95,72.48 321.39,70.74" fill="#333"/>
<text x="275.82" y="87.05" font-size="6.3" text-anchor="middle" fill="#1e1e1e">HO</text>
<text x="317.43" y="87.05" font-size="6.3" text-anchor="middle" fill="#1e1e1e">OH</text>
<text x="310.77" y="54.46" font-size="6.3" text-anchor="middle" fill="#1e1e1e">OH</text>
<text x="346.14" y="40.31" font-size="6.3" text-anchor="middle" fill="#1e1e1e">ONa</text>
<text x="345.72" y="51.69" font-size="6.3" text-anchor="middle" fill="#1e1e1e">O</text>
<text x="384.4" y="58.21" font-size="6.7" fill="#1e1e1e">NaO<tspan font-size="4.82" dy="1.9">3</tspan><tspan dy="-1.9">​</tspan>S</text>
<polyline fill="none" stroke="#333" stroke-width="0.8" stroke-linejoin="round" points="404.3,54.7 408,52.5 414.8,55.8 421.8,52.5 428.4,55.5 431.5,54"/>
<text x="434.4" y="55.09" font-size="7.2" text-anchor="middle" fill="#1e1e1e">O</text>
<polyline fill="none" stroke="#333" stroke-width="0.8" stroke-linejoin="round" points="437.4,54.5 440.4,55.5 447,52.5 454.2,55.8"/>
<polyline fill="none" stroke="#333" stroke-width="0.8" stroke-linejoin="round" points="454.2,55.8 460.4,53.1 466.1,58.4 463.5,63.5"/>
<polyline fill="none" stroke="#333" stroke-width="0.8" stroke-linejoin="round" points="459.8,64.2 454.9,63.4 454.2,55.8"/>
<line x1="456.2" y1="57.5" x2="456.7" y2="62.3" stroke="#333" stroke-width="0.7"/>
<line x1="461" y1="55" x2="464.4" y2="58.4" stroke="#333" stroke-width="0.7"/>
<text x="461.8" y="68.05" font-size="6.8" text-anchor="middle" fill="#1e1e1e">S</text>
<text x="7.6" y="218.38" font-size="10.5" text-anchor="start" fill="#111" font-weight="bold">b</text>
<line x1="39.8" y1="235.5" x2="42.3" y2="235.5" stroke="#555" stroke-width="0.8"/>
<text x="36" y="238.74" font-size="9" text-anchor="end" fill="#1e1e1e">1000</text>
<line x1="39.8" y1="277.3" x2="42.3" y2="277.3" stroke="#555" stroke-width="0.8"/>
<text x="36" y="280.54" font-size="9" text-anchor="end" fill="#1e1e1e">100</text>
<line x1="39.8" y1="319.1" x2="42.3" y2="319.1" stroke="#555" stroke-width="0.8"/>
<text x="36" y="322.34" font-size="9" text-anchor="end" fill="#1e1e1e">10</text>
<line x1="39.8" y1="360.9" x2="42.3" y2="360.9" stroke="#555" stroke-width="0.8"/>
<text x="36" y="364.14" font-size="9" text-anchor="end" fill="#1e1e1e">1</text>
<line x1="40.8" y1="370.17" x2="42.3" y2="370.17" stroke="#555" stroke-width="0.7"/>
<line x1="40.8" y1="367.37" x2="42.3" y2="367.37" stroke="#555" stroke-width="0.7"/>
<line x1="40.8" y1="364.95" x2="42.3" y2="364.95" stroke="#555" stroke-width="0.7"/>
<line x1="40.8" y1="362.81" x2="42.3" y2="362.81" stroke="#555" stroke-width="0.7"/>
<line x1="40.8" y1="348.32" x2="42.3" y2="348.32" stroke="#555" stroke-width="0.7"/>
<line x1="40.8" y1="340.96" x2="42.3" y2="340.96" stroke="#555" stroke-width="0.7"/>
<line x1="40.8" y1="335.73" x2="42.3" y2="335.73" stroke="#555" stroke-width="0.7"/>
<line x1="40.8" y1="331.68" x2="42.3" y2="331.68" stroke="#555" stroke-width="0.7"/>
<line x1="40.8" y1="328.37" x2="42.3" y2="328.37" stroke="#555" stroke-width="0.7"/>
<line x1="40.8" y1="325.57" x2="42.3" y2="325.57" stroke="#555" stroke-width="0.7"/>
<line x1="40.8" y1="323.15" x2="42.3" y2="323.15" stroke="#555" stroke-width="0.7"/>
<line x1="40.8" y1="321.01" x2="42.3" y2="321.01" stroke="#555" stroke-width="0.7"/>
<line x1="40.8" y1="306.52" x2="42.3" y2="306.52" stroke="#555" stroke-width="0.7"/>
<line x1="40.8" y1="299.16" x2="42.3" y2="299.16" stroke="#555" stroke-width="0.7"/>
<line x1="40.8" y1="293.93" x2="42.3" y2="293.93" stroke="#555" stroke-width="0.7"/>
<line x1="40.8" y1="289.88" x2="42.3" y2="289.88" stroke="#555" stroke-width="0.7"/>
<line x1="40.8" y1="286.57" x2="42.3" y2="286.57" stroke="#555" stroke-width="0.7"/>
<line x1="40.8" y1="283.77" x2="42.3" y2="283.77" stroke="#555" stroke-width="0.7"/>
<line x1="40.8" y1="281.35" x2="42.3" y2="281.35" stroke="#555" stroke-width="0.7"/>
<line x1="40.8" y1="279.21" x2="42.3" y2="279.21" stroke="#555" stroke-width="0.7"/>
<line x1="40.8" y1="264.72" x2="42.3" y2="264.72" stroke="#555" stroke-width="0.7"/>
<line x1="40.8" y1="257.36" x2="42.3" y2="257.36" stroke="#555" stroke-width="0.7"/>
<line x1="40.8" y1="252.13" x2="42.3" y2="252.13" stroke="#555" stroke-width="0.7"/>
<line x1="40.8" y1="248.08" x2="42.3" y2="248.08" stroke="#555" stroke-width="0.7"/>
<line x1="40.8" y1="244.77" x2="42.3" y2="244.77" stroke="#555" stroke-width="0.7"/>
<line x1="40.8" y1="241.97" x2="42.3" y2="241.97" stroke="#555" stroke-width="0.7"/>
<line x1="40.8" y1="239.55" x2="42.3" y2="239.55" stroke="#555" stroke-width="0.7"/>
<line x1="40.8" y1="237.41" x2="42.3" y2="237.41" stroke="#555" stroke-width="0.7"/>
<line x1="70.8" y1="373" x2="70.8" y2="370.4" stroke="#555" stroke-width="0.8"/>
<text x="70.8" y="384.14" font-size="9" text-anchor="middle" fill="#1e1e1e">0.1</text>
<line x1="144.4" y1="373" x2="144.4" y2="370.4" stroke="#555" stroke-width="0.8"/>
<text x="144.4" y="384.14" font-size="9" text-anchor="middle" fill="#1e1e1e">1</text>
<line x1="48.64" y1="373" x2="48.64" y2="371.5" stroke="#555" stroke-width="0.7"/>
<line x1="54.47" y1="373" x2="54.47" y2="371.5" stroke="#555" stroke-width="0.7"/>
<line x1="59.4" y1="373" x2="59.4" y2="371.5" stroke="#555" stroke-width="0.7"/>
<line x1="63.67" y1="373" x2="63.67" y2="371.5" stroke="#555" stroke-width="0.7"/>
<line x1="67.43" y1="373" x2="67.43" y2="371.5" stroke="#555" stroke-width="0.7"/>
<line x1="92.96" y1="373" x2="92.96" y2="371.5" stroke="#555" stroke-width="0.7"/>
<line x1="105.92" y1="373" x2="105.92" y2="371.5" stroke="#555" stroke-width="0.7"/>
<line x1="115.11" y1="373" x2="115.11" y2="371.5" stroke="#555" stroke-width="0.7"/>
<line x1="122.24" y1="373" x2="122.24" y2="371.5" stroke="#555" stroke-width="0.7"/>
<line x1="128.07" y1="373" x2="128.07" y2="371.5" stroke="#555" stroke-width="0.7"/>
<line x1="133" y1="373" x2="133" y2="371.5" stroke="#555" stroke-width="0.7"/>
<line x1="137.27" y1="373" x2="137.27" y2="371.5" stroke="#555" stroke-width="0.7"/>
<line x1="141.03" y1="373" x2="141.03" y2="371.5" stroke="#555" stroke-width="0.7"/>
<line x1="163.2" y1="373" x2="163.2" y2="370.4" stroke="#555" stroke-width="0.8"/>
<text x="163.2" y="384.14" font-size="9" text-anchor="middle" fill="#1e1e1e">0.01</text>
<line x1="205.4" y1="373" x2="205.4" y2="370.4" stroke="#555" stroke-width="0.8"/>
<text x="205.4" y="384.14" font-size="9" text-anchor="middle" fill="#1e1e1e">0.1</text>
<line x1="247.6" y1="373" x2="247.6" y2="370.4" stroke="#555" stroke-width="0.8"/>
<text x="247.6" y="384.14" font-size="9" text-anchor="middle" fill="#1e1e1e">1</text>
<line x1="153.84" y1="373" x2="153.84" y2="371.5" stroke="#555" stroke-width="0.7"/>
<line x1="156.66" y1="373" x2="156.66" y2="371.5" stroke="#555" stroke-width="0.7"/>
<line x1="159.11" y1="373" x2="159.11" y2="371.5" stroke="#555" stroke-width="0.7"/>
<line x1="161.27" y1="373" x2="161.27" y2="371.5" stroke="#555" stroke-width="0.7"/>
<line x1="175.9" y1="373" x2="175.9" y2="371.5" stroke="#555" stroke-width="0.7"/>
<line x1="183.33" y1="373" x2="183.33" y2="371.5" stroke="#555" stroke-width="0.7"/>
<line x1="188.61" y1="373" x2="188.61" y2="371.5" stroke="#555" stroke-width="0.7"/>
<line x1="192.7" y1="373" x2="192.7" y2="371.5" stroke="#555" stroke-width="0.7"/>
<line x1="196.04" y1="373" x2="196.04" y2="371.5" stroke="#555" stroke-width="0.7"/>
<line x1="198.86" y1="373" x2="198.86" y2="371.5" stroke="#555" stroke-width="0.7"/>
<line x1="201.31" y1="373" x2="201.31" y2="371.5" stroke="#555" stroke-width="0.7"/>
<line x1="203.47" y1="373" x2="203.47" y2="371.5" stroke="#555" stroke-width="0.7"/>
<line x1="218.1" y1="373" x2="218.1" y2="371.5" stroke="#555" stroke-width="0.7"/>
<line x1="225.53" y1="373" x2="225.53" y2="371.5" stroke="#555" stroke-width="0.7"/>
<line x1="230.81" y1="373" x2="230.81" y2="371.5" stroke="#555" stroke-width="0.7"/>
<line x1="234.9" y1="373" x2="234.9" y2="371.5" stroke="#555" stroke-width="0.7"/>
<line x1="238.24" y1="373" x2="238.24" y2="371.5" stroke="#555" stroke-width="0.7"/>
<line x1="241.06" y1="373" x2="241.06" y2="371.5" stroke="#555" stroke-width="0.7"/>
<line x1="243.51" y1="373" x2="243.51" y2="371.5" stroke="#555" stroke-width="0.7"/>
<line x1="245.67" y1="373" x2="245.67" y2="371.5" stroke="#555" stroke-width="0.7"/>
<line x1="282.3" y1="373" x2="282.3" y2="370.4" stroke="#555" stroke-width="0.8"/>
<text x="282.3" y="384.14" font-size="9" text-anchor="middle" fill="#1e1e1e">0.1</text>
<line x1="325.7" y1="373" x2="325.7" y2="370.4" stroke="#555" stroke-width="0.8"/>
<text x="325.7" y="384.14" font-size="9" text-anchor="middle" fill="#1e1e1e">1</text>
<line x1="369.1" y1="373" x2="369.1" y2="370.4" stroke="#555" stroke-width="0.8"/>
<text x="369.1" y="384.14" font-size="9" text-anchor="middle" fill="#1e1e1e">10</text>
<line x1="265.03" y1="373" x2="265.03" y2="371.5" stroke="#555" stroke-width="0.7"/>
<line x1="269.24" y1="373" x2="269.24" y2="371.5" stroke="#555" stroke-width="0.7"/>
<line x1="272.67" y1="373" x2="272.67" y2="371.5" stroke="#555" stroke-width="0.7"/>
<line x1="275.58" y1="373" x2="275.58" y2="371.5" stroke="#555" stroke-width="0.7"/>
<line x1="278.09" y1="373" x2="278.09" y2="371.5" stroke="#555" stroke-width="0.7"/>
<line x1="280.31" y1="373" x2="280.31" y2="371.5" stroke="#555" stroke-width="0.7"/>
<line x1="295.36" y1="373" x2="295.36" y2="371.5" stroke="#555" stroke-width="0.7"/>
<line x1="303.01" y1="373" x2="303.01" y2="371.5" stroke="#555" stroke-width="0.7"/>
<line x1="308.43" y1="373" x2="308.43" y2="371.5" stroke="#555" stroke-width="0.7"/>
<line x1="312.64" y1="373" x2="312.64" y2="371.5" stroke="#555" stroke-width="0.7"/>
<line x1="316.07" y1="373" x2="316.07" y2="371.5" stroke="#555" stroke-width="0.7"/>
<line x1="318.98" y1="373" x2="318.98" y2="371.5" stroke="#555" stroke-width="0.7"/>
<line x1="321.49" y1="373" x2="321.49" y2="371.5" stroke="#555" stroke-width="0.7"/>
<line x1="323.71" y1="373" x2="323.71" y2="371.5" stroke="#555" stroke-width="0.7"/>
<line x1="338.76" y1="373" x2="338.76" y2="371.5" stroke="#555" stroke-width="0.7"/>
<line x1="346.41" y1="373" x2="346.41" y2="371.5" stroke="#555" stroke-width="0.7"/>
<line x1="351.83" y1="373" x2="351.83" y2="371.5" stroke="#555" stroke-width="0.7"/>
<line x1="356.04" y1="373" x2="356.04" y2="371.5" stroke="#555" stroke-width="0.7"/>
<line x1="359.47" y1="373" x2="359.47" y2="371.5" stroke="#555" stroke-width="0.7"/>
<line x1="362.38" y1="373" x2="362.38" y2="371.5" stroke="#555" stroke-width="0.7"/>
<line x1="364.89" y1="373" x2="364.89" y2="371.5" stroke="#555" stroke-width="0.7"/>
<line x1="367.11" y1="373" x2="367.11" y2="371.5" stroke="#555" stroke-width="0.7"/>
<line x1="398.3" y1="373" x2="398.3" y2="370.4" stroke="#555" stroke-width="0.8"/>
<text x="398.3" y="384.14" font-size="9" text-anchor="middle" fill="#1e1e1e">1</text>
<line x1="440.7" y1="373" x2="440.7" y2="370.4" stroke="#555" stroke-width="0.8"/>
<text x="440.7" y="384.14" font-size="9" text-anchor="middle" fill="#1e1e1e">10</text>
<line x1="376.13" y1="373" x2="376.13" y2="371.5" stroke="#555" stroke-width="0.7"/>
<line x1="381.43" y1="373" x2="381.43" y2="371.5" stroke="#555" stroke-width="0.7"/>
<line x1="385.54" y1="373" x2="385.54" y2="371.5" stroke="#555" stroke-width="0.7"/>
<line x1="388.89" y1="373" x2="388.89" y2="371.5" stroke="#555" stroke-width="0.7"/>
<line x1="391.73" y1="373" x2="391.73" y2="371.5" stroke="#555" stroke-width="0.7"/>
<line x1="394.19" y1="373" x2="394.19" y2="371.5" stroke="#555" stroke-width="0.7"/>
<line x1="396.36" y1="373" x2="396.36" y2="371.5" stroke="#555" stroke-width="0.7"/>
<line x1="411.06" y1="373" x2="411.06" y2="371.5" stroke="#555" stroke-width="0.7"/>
<line x1="418.53" y1="373" x2="418.53" y2="371.5" stroke="#555" stroke-width="0.7"/>
<line x1="423.83" y1="373" x2="423.83" y2="371.5" stroke="#555" stroke-width="0.7"/>
<line x1="427.94" y1="373" x2="427.94" y2="371.5" stroke="#555" stroke-width="0.7"/>
<line x1="431.29" y1="373" x2="431.29" y2="371.5" stroke="#555" stroke-width="0.7"/>
<line x1="434.13" y1="373" x2="434.13" y2="371.5" stroke="#555" stroke-width="0.7"/>
<line x1="436.59" y1="373" x2="436.59" y2="371.5" stroke="#555" stroke-width="0.7"/>
<line x1="438.76" y1="373" x2="438.76" y2="371.5" stroke="#555" stroke-width="0.7"/>
<line x1="453.46" y1="373" x2="453.46" y2="371.5" stroke="#555" stroke-width="0.7"/>
<line x1="460.93" y1="373" x2="460.93" y2="371.5" stroke="#555" stroke-width="0.7"/>
<line x1="466.23" y1="373" x2="466.23" y2="371.5" stroke="#555" stroke-width="0.7"/>
<line x1="470.34" y1="373" x2="470.34" y2="371.5" stroke="#555" stroke-width="0.7"/>
<line x1="473.69" y1="373" x2="473.69" y2="371.5" stroke="#555" stroke-width="0.7"/>
<line x1="476.53" y1="373" x2="476.53" y2="371.5" stroke="#555" stroke-width="0.7"/>
<rect x="42.3" y="223.4" width="437" height="149.6" fill="none" stroke="#555" stroke-width="1"/>
<line x1="151.4" y1="223.4" x2="151.4" y2="373" stroke="#333" stroke-width="1.2"/>
<line x1="260" y1="223.4" x2="260" y2="373" stroke="#333" stroke-width="1.2"/>
<line x1="368.7" y1="223.4" x2="368.7" y2="373" stroke="#333" stroke-width="1.2"/>
<line x1="42.3" y1="223.4" x2="42.3" y2="373" stroke="#8a8a8a" stroke-width="1.3"/>
<text x="262" y="400.1" font-size="10" text-anchor="middle" fill="#1e1e1e">Surfactant Concentration (wt. %)</text>
<text transform="translate(12.3,295.2) rotate(-90)" font-size="10.2" text-anchor="middle" fill="#1e1e1e">NP Diameter (nm)</text>
<text x="45.6" y="232.94" font-size="9" text-anchor="start" fill="#1e1e1e">SDS</text>
<text x="154.8" y="234.56" font-size="8.5" text-anchor="start" fill="#1e1e1e">SDBS</text>
<text x="263.6" y="234.56" font-size="8.5" text-anchor="start" fill="#1e1e1e">SC</text>
<text x="372.2" y="234.56" font-size="8.5" text-anchor="start" fill="#1e1e1e">TEBS</text>
<line x1="45" y1="238.4" x2="51.5" y2="238.4" stroke="#3fa8c9" stroke-width="1.2"/>
<line x1="57.8" y1="238.4" x2="64.3" y2="238.4" stroke="#3fa8c9" stroke-width="1.2"/>
<circle cx="54.7" cy="238.4" r="2.6" fill="url(#gb)"/>
<text x="67" y="241.39" font-size="8.3" text-anchor="start" fill="#1e1e1e">PM6:Y6</text>
<line x1="45" y1="249.1" x2="51.5" y2="249.1" stroke="#e69ea3" stroke-width="1.2"/>
<line x1="57.8" y1="249.1" x2="64.3" y2="249.1" stroke="#e69ea3" stroke-width="1.2"/>
<circle cx="54.7" cy="249.1" r="2.6" fill="url(#gp)"/>
<text x="67" y="252.09" font-size="8.3" text-anchor="start" fill="#1e1e1e">PCE10:EH-IDTBR</text>
<line x1="45" y1="259.9" x2="51.5" y2="259.9" stroke="#ee8419" stroke-width="1.2"/>
<line x1="57.8" y1="259.9" x2="64.3" y2="259.9" stroke="#ee8419" stroke-width="1.2"/>
<circle cx="54.7" cy="259.9" r="2.6" fill="url(#go)"/>
<text x="67" y="262.89" font-size="8.3" text-anchor="start" fill="#1e1e1e">B1:EH-IDTBR</text>
<line x1="45" y1="270.5" x2="51.5" y2="270.5" stroke="#c2bd10" stroke-width="1.2"/>
<line x1="57.8" y1="270.5" x2="64.3" y2="270.5" stroke="#c2bd10" stroke-width="1.2"/>
<circle cx="54.7" cy="270.5" r="2.6" fill="url(#gy)"/>
<text x="67" y="273.49" font-size="8.3" text-anchor="start" fill="#1e1e1e">BTR:L8-BO</text>
<polyline fill="none" stroke="#3fa8c9" stroke-width="1.2" stroke-linejoin="round" points="48.6,284.7 70.8,292.7 122.2,301 144.4,302.2"/>
<circle cx="48.6" cy="284.7" r="2.6" fill="url(#gb)"/>
<circle cx="70.8" cy="292.7" r="2.6" fill="url(#gb)"/>
<circle cx="122.2" cy="301" r="2.6" fill="url(#gb)"/>
<circle cx="144.4" cy="302.2" r="2.6" fill="url(#gb)"/>
<polyline fill="none" stroke="#e69ea3" stroke-width="1.2" stroke-linejoin="round" points="48.6,296.4 70.8,300.4 122.2,301.5 144.4,303.2"/>
<circle cx="48.6" cy="296.4" r="2.6" fill="url(#gp)"/>
<circle cx="70.8" cy="300.4" r="2.6" fill="url(#gp)"/>
<circle cx="122.2" cy="301.5" r="2.6" fill="url(#gp)"/>
<circle cx="144.4" cy="303.2" r="2.6" fill="url(#gp)"/>
<polyline fill="none" stroke="#ee8419" stroke-width="1.2" stroke-linejoin="round" points="48.6,338.2 70.8,340.1 122.2,353.6 144.4,356.4"/>
<circle cx="48.6" cy="338.2" r="2.6" fill="url(#go)"/>
<circle cx="70.8" cy="340.1" r="2.6" fill="url(#go)"/>
<circle cx="122.2" cy="353.6" r="2.6" fill="url(#go)"/>
<circle cx="144.4" cy="356.4" r="2.6" fill="url(#go)"/>
<polyline fill="none" stroke="#c2bd10" stroke-width="1.2" stroke-linejoin="round" points="48.6,328 70.8,349.9 122.2,348.3 144.4,349.4"/>
<circle cx="48.6" cy="328" r="2.6" fill="url(#gy)"/>
<circle cx="70.8" cy="349.9" r="2.6" fill="url(#gy)"/>
<circle cx="122.2" cy="348.3" r="2.6" fill="url(#gy)"/>
<circle cx="144.4" cy="349.4" r="2.6" fill="url(#gy)"/>
<polyline fill="none" stroke="#3fa8c9" stroke-width="1.2" stroke-linejoin="round" points="192.6,287.7 205.3,294.3 234.7,296 247.5,306.1"/>
<circle cx="192.6" cy="287.7" r="2.6" fill="url(#gb)"/>
<circle cx="205.3" cy="294.3" r="2.6" fill="url(#gb)"/>
<circle cx="234.7" cy="296" r="2.6" fill="url(#gb)"/>
<circle cx="247.5" cy="306.1" r="2.6" fill="url(#gb)"/>
<polyline fill="none" stroke="#e69ea3" stroke-width="1.2" stroke-linejoin="round" points="163.2,272.8 192.6,291.3 205.3,297.8"/>
<circle cx="163.2" cy="272.8" r="2.6" fill="url(#gp)"/>
<circle cx="192.6" cy="291.3" r="2.6" fill="url(#gp)"/>
<circle cx="205.3" cy="297.8" r="2.6" fill="url(#gp)"/>
<polyline fill="none" stroke="#ee8419" stroke-width="1.2" stroke-linejoin="round" points="163.2,272.6 192.6,344.1 205.3,341.8"/>
<circle cx="163.2" cy="272.6" r="2.6" fill="url(#go)"/>
<circle cx="192.6" cy="344.1" r="2.6" fill="url(#go)"/>
<circle cx="205.3" cy="341.8" r="2.6" fill="url(#go)"/>
<polyline fill="none" stroke="#c2bd10" stroke-width="1.2" stroke-linejoin="round" points="163.2,313.6 192.6,327.8 205.3,335.8"/>
<circle cx="163.2" cy="313.6" r="2.6" fill="url(#gy)"/>
<circle cx="192.6" cy="327.8" r="2.6" fill="url(#gy)"/>
<circle cx="205.3" cy="335.8" r="2.6" fill="url(#gy)"/>
<polyline fill="none" stroke="#3fa8c9" stroke-width="1.2" stroke-linejoin="round" points="269.3,271.4 282.3,289.8 312.6,298.4 325.7,297.2 356,298.7"/>
<circle cx="269.3" cy="271.4" r="2.6" fill="url(#gb)"/>
<circle cx="282.3" cy="289.8" r="2.6" fill="url(#gb)"/>
<circle cx="312.6" cy="298.4" r="2.6" fill="url(#gb)"/>
<circle cx="325.7" cy="297.2" r="2.6" fill="url(#gb)"/>
<circle cx="356" cy="298.7" r="2.6" fill="url(#gb)"/>
<polyline fill="none" stroke="#e69ea3" stroke-width="1.2" stroke-linejoin="round" points="269.3,270.5 282.3,281.8 312.6,300.2 325.7,300.8 356,303.8"/>
<circle cx="269.3" cy="270.5" r="2.6" fill="url(#gp)"/>
<circle cx="282.3" cy="281.8" r="2.6" fill="url(#gp)"/>
<circle cx="312.6" cy="300.2" r="2.6" fill="url(#gp)"/>
<circle cx="325.7" cy="300.8" r="2.6" fill="url(#gp)"/>
<circle cx="356" cy="303.8" r="2.6" fill="url(#gp)"/>
<polyline fill="none" stroke="#ee8419" stroke-width="1.2" stroke-linejoin="round" points="282.3,340.9 312.6,344.1 325.7,351.3 356,361.1"/>
<circle cx="282.3" cy="340.9" r="2.6" fill="url(#go)"/>
<circle cx="312.6" cy="344.1" r="2.6" fill="url(#go)"/>
<circle cx="325.7" cy="351.3" r="2.6" fill="url(#go)"/>
<circle cx="356" cy="361.1" r="2.6" fill="url(#go)"/>
<polyline fill="none" stroke="#c2bd10" stroke-width="1.2" stroke-linejoin="round" points="269.3,298.7 282.3,346.8 312.6,340.3 325.7,352.8 356,362"/>
<circle cx="269.3" cy="298.7" r="2.6" fill="url(#gy)"/>
<circle cx="282.3" cy="346.8" r="2.6" fill="url(#gy)"/>
<circle cx="312.6" cy="340.3" r="2.6" fill="url(#gy)"/>
<circle cx="325.7" cy="352.8" r="2.6" fill="url(#gy)"/>
<circle cx="356" cy="362" r="2.6" fill="url(#gy)"/>
<polyline fill="none" stroke="#3fa8c9" stroke-width="1.2" stroke-linejoin="round" points="398.3,287.7 428,289.8 440.7,293.4 453.2,293.1 460.9,303.2 466.6,301.1 470.4,302.6"/>
<circle cx="398.3" cy="287.7" r="2.6" fill="url(#gb)"/>
<circle cx="428" cy="289.8" r="2.6" fill="url(#gb)"/>
<circle cx="440.7" cy="293.4" r="2.6" fill="url(#gb)"/>
<circle cx="453.2" cy="293.1" r="2.6" fill="url(#gb)"/>
<circle cx="460.9" cy="303.2" r="2.6" fill="url(#gb)"/>
<circle cx="466.6" cy="301.1" r="2.6" fill="url(#gb)"/>
<circle cx="470.4" cy="302.6" r="2.6" fill="url(#gb)"/>
<polyline fill="none" stroke="#e69ea3" stroke-width="1.2" stroke-linejoin="round" points="385.2,285.9 404.2,290.4 405.4,290.6 411,292.2 428,295.1 440.7,300.2 453.2,299.3 460.9,301.1"/>
<circle cx="385.2" cy="285.9" r="2.6" fill="url(#gp)"/>
<circle cx="404.2" cy="290.4" r="2.6" fill="url(#gp)"/>
<circle cx="405.4" cy="290.6" r="2.6" fill="url(#gp)"/>
<circle cx="411" cy="292.2" r="2.6" fill="url(#gp)"/>
<circle cx="428" cy="295.1" r="2.6" fill="url(#gp)"/>
<circle cx="440.7" cy="300.2" r="2.6" fill="url(#gp)"/>
<circle cx="453.2" cy="299.3" r="2.6" fill="url(#gp)"/>
<circle cx="460.9" cy="301.1" r="2.6" fill="url(#gp)"/>
<polyline fill="none" stroke="#ee8419" stroke-width="1.2" stroke-linejoin="round" points="376.3,333.8 381.3,339.7 385.2,324.5 398.3,334.3 428,347.7 440.7,363.5"/>
<circle cx="376.3" cy="333.8" r="2.6" fill="url(#go)"/>
<circle cx="381.3" cy="339.7" r="2.6" fill="url(#go)"/>
<circle cx="385.2" cy="324.5" r="2.6" fill="url(#go)"/>
<circle cx="398.3" cy="334.3" r="2.6" fill="url(#go)"/>
<circle cx="428" cy="347.7" r="2.6" fill="url(#go)"/>
<circle cx="440.7" cy="363.5" r="2.6" fill="url(#go)"/>
<polyline fill="none" stroke="#c2bd10" stroke-width="1.2" stroke-linejoin="round" points="376.3,322.5 381.3,326 385.2,354.2 398.3,357.2 428,364.6 440.7,364.6"/>
<circle cx="376.3" cy="322.5" r="2.6" fill="url(#gy)"/>
<circle cx="381.3" cy="326" r="2.6" fill="url(#gy)"/>
<circle cx="385.2" cy="354.2" r="2.6" fill="url(#gy)"/>
<circle cx="398.3" cy="357.2" r="2.6" fill="url(#gy)"/>
<circle cx="428" cy="364.6" r="2.6" fill="url(#gy)"/>
<circle cx="440.7" cy="364.6" r="2.6" fill="url(#gy)"/>
<defs>
<filter id="nzc" x="0" y="0" width="1" height="1" filterUnits="objectBoundingBox" color-interpolation-filters="sRGB"><feTurbulence type="fractalNoise" baseFrequency="1.1" numOctaves="2" seed="3"/><feColorMatrix type="matrix" values="0 0 0 0 0.2  0 0 0 0 0.55  0 0 0 0 0.38  0 0 0 5 -2.95"/></filter>
<filter id="nzbc" x="0" y="0" width="1" height="1" filterUnits="objectBoundingBox" color-interpolation-filters="sRGB"><feTurbulence type="fractalNoise" baseFrequency="1.3" numOctaves="1" seed="23"/><feColorMatrix type="matrix" values="0 0 0 0 0.18  0 0 0 0 0.5  0 0 0 0 0.4  0 0 0 5 -2.55"/></filter>
<filter id="nzd" x="0" y="0" width="1" height="1" filterUnits="objectBoundingBox" color-interpolation-filters="sRGB"><feTurbulence type="fractalNoise" baseFrequency="1.1" numOctaves="2" seed="11"/><feColorMatrix type="matrix" values="0 0 0 0 0.2  0 0 0 0 0.55  0 0 0 0 0.38  0 0 0 5 -2.95"/></filter>
<filter id="nzbd" x="0" y="0" width="1" height="1" filterUnits="objectBoundingBox" color-interpolation-filters="sRGB"><feTurbulence type="fractalNoise" baseFrequency="1.3" numOctaves="1" seed="31"/><feColorMatrix type="matrix" values="0 0 0 0 0.18  0 0 0 0 0.5  0 0 0 0 0.4  0 0 0 5 -2.55"/></filter>
<radialGradient id="mgc" gradientUnits="userSpaceOnUse" cx="545" cy="150" r="150"><stop offset="0" stop-color="#fff"/><stop offset="0.35" stop-color="#fff"/><stop offset="0.6" stop-color="#fff" stop-opacity="0.55"/><stop offset="1" stop-color="#fff" stop-opacity="0"/></radialGradient>
<mask id="mkc" maskUnits="userSpaceOnUse" x="480" y="0" width="205" height="406"><rect x="480" y="0" width="205" height="406" fill="url(#mgc)"/></mask>
<radialGradient id="rgc" gradientUnits="userSpaceOnUse" cx="545" cy="150" r="118" gradientTransform="translate(0,-15) scale(1,1.1)">
<stop offset="0.0" stop-color="#ff0000" stop-opacity="1"/>
<stop offset="0.0381" stop-color="#ff0000" stop-opacity="1"/>
<stop offset="0.0636" stop-color="#ff4800" stop-opacity="1"/>
<stop offset="0.0975" stop-color="#ff9000" stop-opacity="1"/>
<stop offset="0.1398" stop-color="#ffc800" stop-opacity="1"/>
<stop offset="0.1695" stop-color="#ffe400" stop-opacity="1"/>
<stop offset="0.1949" stop-color="#f0ea00" stop-opacity="1"/>
<stop offset="0.2246" stop-color="#dce60a" stop-opacity="1"/>
<stop offset="0.2542" stop-color="#c4de14" stop-opacity="1"/>
<stop offset="0.2966" stop-color="#98cc22" stop-opacity="1"/>
<stop offset="0.3559" stop-color="#64b230" stop-opacity="0.95"/>
<stop offset="0.4153" stop-color="#46a240" stop-opacity="0.85"/>
<stop offset="0.4831" stop-color="#308a56" stop-opacity="0.65"/>
<stop offset="0.5508" stop-color="#267278" stop-opacity="0.45"/>
<stop offset="0.6271" stop-color="#1c5694" stop-opacity="0.25"/>
<stop offset="0.7119" stop-color="#123aa8" stop-opacity="0.1"/>
<stop offset="0.8051" stop-color="#0a1eb2" stop-opacity="0.03"/>
<stop offset="1.0" stop-color="#0a1eb2" stop-opacity="0"/>
</radialGradient>
<radialGradient id="mgd" gradientUnits="userSpaceOnUse" cx="544.2" cy="345.4" r="150"><stop offset="0" stop-color="#fff"/><stop offset="0.35" stop-color="#fff"/><stop offset="0.6" stop-color="#fff" stop-opacity="0.55"/><stop offset="1" stop-color="#fff" stop-opacity="0"/></radialGradient>
<mask id="mkd" maskUnits="userSpaceOnUse" x="480" y="0" width="205" height="406"><rect x="480" y="0" width="205" height="406" fill="url(#mgd)"/></mask>
<radialGradient id="rgd" gradientUnits="userSpaceOnUse" cx="544.2" cy="345.4" r="118" gradientTransform="translate(0,-34.54) scale(1,1.1)">
<stop offset="0.0" stop-color="#ff0000" stop-opacity="1"/>
<stop offset="0.0324" stop-color="#ff0000" stop-opacity="1"/>
<stop offset="0.054" stop-color="#ff4800" stop-opacity="1"/>
<stop offset="0.0828" stop-color="#ff9000" stop-opacity="1"/>
<stop offset="0.1189" stop-color="#ffc800" stop-opacity="1"/>
<stop offset="0.1441" stop-color="#ffe400" stop-opacity="1"/>
<stop offset="0.1657" stop-color="#f0ea00" stop-opacity="1"/>
<stop offset="0.2246" stop-color="#dce60a" stop-opacity="1"/>
<stop offset="0.2542" stop-color="#c4de14" stop-opacity="1"/>
<stop offset="0.2966" stop-color="#98cc22" stop-opacity="1"/>
<stop offset="0.3559" stop-color="#64b230" stop-opacity="0.95"/>
<stop offset="0.4153" stop-color="#46a240" stop-opacity="0.85"/>
<stop offset="0.4831" stop-color="#308a56" stop-opacity="0.65"/>
<stop offset="0.5508" stop-color="#267278" stop-opacity="0.45"/>
<stop offset="0.6271" stop-color="#1c5694" stop-opacity="0.25"/>
<stop offset="0.7119" stop-color="#123aa8" stop-opacity="0.1"/>
<stop offset="0.8051" stop-color="#0a1eb2" stop-opacity="0.03"/>
<stop offset="1.0" stop-color="#0a1eb2" stop-opacity="0"/>
</radialGradient>
</defs>
<defs><clipPath id="hcc"><rect x="534" y="27.7" width="118.6" height="150.1"/></clipPath></defs>
<g clip-path="url(#hcc)">
<rect x="534" y="27.7" width="118.6" height="150.1" fill="#0a1eb2"/>
<rect x="534" y="27.7" width="118.6" height="150.1" fill="#000" filter="url(#nzc)"/>
<rect x="534" y="27.7" width="118.6" height="150.1" fill="#000" filter="url(#nzbc)" mask="url(#mkc)"/>
<ellipse cx="545" cy="150" rx="118" ry="130" fill="url(#rgc)"/>
<rect x="534" y="75" width="118.6" height="4" fill="#3c3c3c"/>
<rect x="534" y="127.3" width="118.6" height="3.7" fill="#3c3c3c"/>
<line x1="545" y1="150" x2="532" y2="165.5" stroke="#0c1c96" stroke-width="2.1"/>
<circle cx="545" cy="150" r="3.8" fill="#0c1c96"/>
</g>
<text x="646.1" y="39.6" font-size="8.6" text-anchor="end" fill="#e8ecf8">BTR:L8-BO SDS</text>
<line x1="533.6" y1="27.7" x2="533.6" y2="177.8" stroke="#444" stroke-width="0.9"/>
<line x1="534" y1="178.2" x2="652.6" y2="178.2" stroke="#444" stroke-width="0.9"/>
<defs><clipPath id="hcd"><rect x="533" y="223.2" width="118.8" height="150.2"/></clipPath></defs>
<g clip-path="url(#hcd)">
<rect x="533" y="223.2" width="118.8" height="150.2" fill="#0a1eb2"/>
<rect x="533" y="223.2" width="118.8" height="150.2" fill="#000" filter="url(#nzd)"/>
<rect x="533" y="223.2" width="118.8" height="150.2" fill="#000" filter="url(#nzbd)" mask="url(#mkd)"/>
<ellipse cx="544.2" cy="345.4" rx="118" ry="130" fill="url(#rgd)"/>
<rect x="533" y="270.4" width="118.8" height="4" fill="#3c3c3c"/>
<rect x="533" y="322.3" width="118.8" height="3.9" fill="#3c3c3c"/>
<line x1="544.2" y1="345.4" x2="531.2" y2="360.9" stroke="#0c1c96" stroke-width="2.1"/>
<circle cx="544.2" cy="345.4" r="3.8" fill="#0c1c96"/>
</g>
<text x="645.3" y="235.1" font-size="8.6" text-anchor="end" fill="#e8ecf8">BTR:L8-BO TEBS</text>
<line x1="532.6" y1="223.2" x2="532.6" y2="373.4" stroke="#444" stroke-width="0.9"/>
<line x1="533" y1="373.8" x2="651.8" y2="373.8" stroke="#444" stroke-width="0.9"/>
<rect x="656.8" y="27.5" width="7" height="6.58" fill="#ff0000"/>
<rect x="656.8" y="33.78" width="7" height="6.58" fill="#ff2000"/>
<rect x="656.8" y="40.06" width="7" height="6.58" fill="#ff4000"/>
<rect x="656.8" y="46.34" width="7" height="6.58" fill="#ff6000"/>
<rect x="656.8" y="52.62" width="7" height="6.58" fill="#ff8000"/>
<rect x="656.8" y="58.9" width="7" height="6.58" fill="#ffa000"/>
<rect x="656.8" y="65.17" width="7" height="6.58" fill="#ffc000"/>
<rect x="656.8" y="71.45" width="7" height="6.58" fill="#ffe000"/>
<rect x="656.8" y="77.73" width="7" height="6.58" fill="#f0f000"/>
<rect x="656.8" y="84.01" width="7" height="6.58" fill="#c8e800"/>
<rect x="656.8" y="90.29" width="7" height="6.58" fill="#a0dc10"/>
<rect x="656.8" y="96.57" width="7" height="6.58" fill="#70c820"/>
<rect x="656.8" y="102.85" width="7" height="6.58" fill="#40b028"/>
<rect x="656.8" y="109.13" width="7" height="6.58" fill="#209838"/>
<rect x="656.8" y="115.41" width="7" height="6.58" fill="#1a8060"/>
<rect x="656.8" y="121.69" width="7" height="6.58" fill="#1a6898"/>
<rect x="656.8" y="127.97" width="7" height="6.58" fill="#1a50d0"/>
<rect x="656.8" y="134.25" width="7" height="6.58" fill="#1030f0"/>
<rect x="656.8" y="140.52" width="7" height="6.58" fill="#1020c8"/>
<rect x="656.8" y="146.8" width="7" height="6.58" fill="#1418a8"/>
<rect x="656.8" y="153.08" width="7" height="6.58" fill="#181498"/>
<rect x="656.8" y="159.36" width="7" height="6.58" fill="#201090"/>
<rect x="656.8" y="165.64" width="7" height="6.58" fill="#280c88"/>
<rect x="656.8" y="171.92" width="7" height="6.58" fill="#300880"/>
<text x="668.2" y="31.24" font-size="9" text-anchor="start" fill="#1e1e1e">100</text>
<line x1="663.7" y1="28" x2="665.7" y2="28" stroke="#444" stroke-width="0.8"/>
<text x="668.2" y="68.84" font-size="9" text-anchor="start" fill="#1e1e1e">10</text>
<line x1="663.7" y1="65.6" x2="665.7" y2="65.6" stroke="#444" stroke-width="0.8"/>
<text x="668.2" y="106.44" font-size="9" text-anchor="start" fill="#1e1e1e">1</text>
<line x1="663.7" y1="103.2" x2="665.7" y2="103.2" stroke="#444" stroke-width="0.8"/>
<text x="668.2" y="144.04" font-size="9" text-anchor="start" fill="#1e1e1e">0.1</text>
<line x1="663.7" y1="140.8" x2="665.7" y2="140.8" stroke="#444" stroke-width="0.8"/>
<text x="668.2" y="181.64" font-size="9" text-anchor="start" fill="#1e1e1e">0.01</text>
<line x1="663.7" y1="178.4" x2="665.7" y2="178.4" stroke="#444" stroke-width="0.8"/>
<rect x="656.5" y="223" width="7" height="6.58" fill="#ff0000"/>
<rect x="656.5" y="229.28" width="7" height="6.58" fill="#ff2000"/>
<rect x="656.5" y="235.55" width="7" height="6.58" fill="#ff4000"/>
<rect x="656.5" y="241.82" width="7" height="6.58" fill="#ff6000"/>
<rect x="656.5" y="248.1" width="7" height="6.58" fill="#ff8000"/>
<rect x="656.5" y="254.38" width="7" height="6.58" fill="#ffa000"/>
<rect x="656.5" y="260.65" width="7" height="6.58" fill="#ffc000"/>
<rect x="656.5" y="266.93" width="7" height="6.58" fill="#ffe000"/>
<rect x="656.5" y="273.2" width="7" height="6.58" fill="#f0f000"/>
<rect x="656.5" y="279.48" width="7" height="6.58" fill="#c8e800"/>
<rect x="656.5" y="285.75" width="7" height="6.58" fill="#a0dc10"/>
<rect x="656.5" y="292.03" width="7" height="6.58" fill="#70c820"/>
<rect x="656.5" y="298.3" width="7" height="6.58" fill="#40b028"/>
<rect x="656.5" y="304.58" width="7" height="6.58" fill="#209838"/>
<rect x="656.5" y="310.85" width="7" height="6.58" fill="#1a8060"/>
<rect x="656.5" y="317.12" width="7" height="6.58" fill="#1a6898"/>
<rect x="656.5" y="323.4" width="7" height="6.58" fill="#1a50d0"/>
<rect x="656.5" y="329.68" width="7" height="6.58" fill="#1030f0"/>
<rect x="656.5" y="335.95" width="7" height="6.58" fill="#1020c8"/>
<rect x="656.5" y="342.23" width="7" height="6.58" fill="#1418a8"/>
<rect x="656.5" y="348.5" width="7" height="6.58" fill="#181498"/>
<rect x="656.5" y="354.78" width="7" height="6.58" fill="#201090"/>
<rect x="656.5" y="361.05" width="7" height="6.58" fill="#280c88"/>
<rect x="656.5" y="367.33" width="7" height="6.58" fill="#300880"/>
<text x="667.8" y="226.74" font-size="9" text-anchor="start" fill="#1e1e1e">100</text>
<line x1="663.3" y1="223.5" x2="665.3" y2="223.5" stroke="#444" stroke-width="0.8"/>
<text x="667.8" y="264.34" font-size="9" text-anchor="start" fill="#1e1e1e">10</text>
<line x1="663.3" y1="261.1" x2="665.3" y2="261.1" stroke="#444" stroke-width="0.8"/>
<text x="667.8" y="301.94" font-size="9" text-anchor="start" fill="#1e1e1e">1</text>
<line x1="663.3" y1="298.7" x2="665.3" y2="298.7" stroke="#444" stroke-width="0.8"/>
<text x="667.8" y="339.54" font-size="9" text-anchor="start" fill="#1e1e1e">0.1</text>
<line x1="663.3" y1="336.3" x2="665.3" y2="336.3" stroke="#444" stroke-width="0.8"/>
<text x="667.8" y="377.14" font-size="9" text-anchor="start" fill="#1e1e1e">0.01</text>
<line x1="663.3" y1="373.9" x2="665.3" y2="373.9" stroke="#444" stroke-width="0.8"/>
<text x="501.8" y="16.98" font-size="10.5" text-anchor="start" fill="#111" font-weight="bold">c</text>
<text x="501.8" y="218.58" font-size="10.5" text-anchor="start" fill="#111" font-weight="bold">d</text>
<text x="531.5" y="47.99" font-size="9" text-anchor="end" fill="#1e1e1e">−0.12</text>
<line x1="531.8" y1="44.75" x2="534" y2="44.75" stroke="#444" stroke-width="0.8"/>
<text x="531.5" y="83.04" font-size="9" text-anchor="end" fill="#1e1e1e">−0.08</text>
<line x1="531.8" y1="79.8" x2="534" y2="79.8" stroke="#444" stroke-width="0.8"/>
<text x="531.5" y="118.09" font-size="9" text-anchor="end" fill="#1e1e1e">−0.04</text>
<line x1="531.8" y1="114.85" x2="534" y2="114.85" stroke="#444" stroke-width="0.8"/>
<text x="531.5" y="153.14" font-size="9" text-anchor="end" fill="#1e1e1e">0.00</text>
<line x1="531.8" y1="149.9" x2="534" y2="149.9" stroke="#444" stroke-width="0.8"/>
<line x1="532.6" y1="62.3" x2="534" y2="62.3" stroke="#444" stroke-width="0.7"/>
<line x1="532.6" y1="97.35" x2="534" y2="97.35" stroke="#444" stroke-width="0.7"/>
<line x1="532.6" y1="132.4" x2="534" y2="132.4" stroke="#444" stroke-width="0.7"/>
<text x="545" y="187.64" font-size="9" text-anchor="middle" fill="#1e1e1e">0.00</text>
<line x1="545" y1="177.8" x2="545" y2="180" stroke="#444" stroke-width="0.8"/>
<text x="580.2" y="187.64" font-size="9" text-anchor="middle" fill="#1e1e1e">0.04</text>
<line x1="580.2" y1="177.8" x2="580.2" y2="180" stroke="#444" stroke-width="0.8"/>
<text x="615.4" y="187.64" font-size="9" text-anchor="middle" fill="#1e1e1e">0.08</text>
<line x1="615.4" y1="177.8" x2="615.4" y2="180" stroke="#444" stroke-width="0.8"/>
<text x="650.6" y="187.64" font-size="9" text-anchor="middle" fill="#1e1e1e">0.12</text>
<line x1="650.6" y1="177.8" x2="650.6" y2="180" stroke="#444" stroke-width="0.8"/>
<text x="598.3" y="208.2" font-size="10" text-anchor="middle" fill="#1e1e1e">q<tspan font-size="6.5" dy="2">r</tspan><tspan dy="-2"> (nm</tspan><tspan font-size="6.5" dy="-3.5">−1</tspan><tspan dy="3.5">)</tspan></text>
<text transform="translate(506.3,107) rotate(-90)" font-size="10" text-anchor="middle" fill="#1e1e1e">q<tspan font-size="6.5" dy="2">z</tspan><tspan dy="-2"> (nm</tspan><tspan font-size="6.5" dy="-3.5">−1</tspan><tspan dy="3.5">)</tspan></text>
<text x="530.5" y="243.49" font-size="9" text-anchor="end" fill="#1e1e1e">−0.12</text>
<line x1="530.8" y1="240.25" x2="533" y2="240.25" stroke="#444" stroke-width="0.8"/>
<text x="530.5" y="278.54" font-size="9" text-anchor="end" fill="#1e1e1e">−0.08</text>
<line x1="530.8" y1="275.3" x2="533" y2="275.3" stroke="#444" stroke-width="0.8"/>
<text x="530.5" y="313.59" font-size="9" text-anchor="end" fill="#1e1e1e">−0.04</text>
<line x1="530.8" y1="310.35" x2="533" y2="310.35" stroke="#444" stroke-width="0.8"/>
<text x="530.5" y="348.64" font-size="9" text-anchor="end" fill="#1e1e1e">0.00</text>
<line x1="530.8" y1="345.4" x2="533" y2="345.4" stroke="#444" stroke-width="0.8"/>
<line x1="531.6" y1="257.8" x2="533" y2="257.8" stroke="#444" stroke-width="0.7"/>
<line x1="531.6" y1="292.85" x2="533" y2="292.85" stroke="#444" stroke-width="0.7"/>
<line x1="531.6" y1="327.9" x2="533" y2="327.9" stroke="#444" stroke-width="0.7"/>
<text x="544" y="383.24" font-size="9" text-anchor="middle" fill="#1e1e1e">0.00</text>
<line x1="544" y1="373.4" x2="544" y2="375.6" stroke="#444" stroke-width="0.8"/>
<text x="579.2" y="383.24" font-size="9" text-anchor="middle" fill="#1e1e1e">0.04</text>
<line x1="579.2" y1="373.4" x2="579.2" y2="375.6" stroke="#444" stroke-width="0.8"/>
<text x="614.4" y="383.24" font-size="9" text-anchor="middle" fill="#1e1e1e">0.08</text>
<line x1="614.4" y1="373.4" x2="614.4" y2="375.6" stroke="#444" stroke-width="0.8"/>
<text x="649.6" y="383.24" font-size="9" text-anchor="middle" fill="#1e1e1e">0.12</text>
<line x1="649.6" y1="373.4" x2="649.6" y2="375.6" stroke="#444" stroke-width="0.8"/>
<text x="589.3" y="403.3" font-size="10" text-anchor="middle" fill="#1e1e1e">q<tspan font-size="6.5" dy="2">r</tspan><tspan dy="-2"> (nm</tspan><tspan font-size="6.5" dy="-3.5">−1</tspan><tspan dy="3.5">)</tspan></text>
<text transform="translate(506.3,302.5) rotate(-90)" font-size="10" text-anchor="middle" fill="#1e1e1e">q<tspan font-size="6.5" dy="2">z</tspan><tspan dy="-2"> (nm</tspan><tspan font-size="6.5" dy="-3.5">−1</tspan><tspan dy="3.5">)</tspan></text>
<rect x="42.6" y="429.3" width="286.9" height="149.6" fill="none" stroke="#666" stroke-width="1"/>
<line x1="42.6" y1="429.3" x2="329.5" y2="429.3" stroke="#444" stroke-width="1"/>
<line x1="42.6" y1="429.3" x2="42.6" y2="578.9" stroke="#555" stroke-width="1.1"/>
<line x1="42.6" y1="578.9" x2="329.5" y2="578.9" stroke="#555" stroke-width="1.1"/>
<text x="36.8" y="432.54" font-size="9" text-anchor="end" fill="#1e1e1e">1000</text>
<line x1="40" y1="429.3" x2="45.1" y2="429.3" stroke="#444" stroke-width="0.8"/>
<text x="36.8" y="462.47" font-size="9" text-anchor="end" fill="#1e1e1e">100</text>
<line x1="40" y1="459.23" x2="45.1" y2="459.23" stroke="#444" stroke-width="0.8"/>
<text x="36.8" y="492.4" font-size="9" text-anchor="end" fill="#1e1e1e">10</text>
<line x1="40" y1="489.16" x2="45.1" y2="489.16" stroke="#444" stroke-width="0.8"/>
<text x="36.8" y="522.33" font-size="9" text-anchor="end" fill="#1e1e1e">1</text>
<line x1="40" y1="519.09" x2="45.1" y2="519.09" stroke="#444" stroke-width="0.8"/>
<text x="36.8" y="552.26" font-size="9" text-anchor="end" fill="#1e1e1e">0.1</text>
<line x1="40" y1="549.02" x2="45.1" y2="549.02" stroke="#444" stroke-width="0.8"/>
<text x="36.8" y="582.19" font-size="9" text-anchor="end" fill="#1e1e1e">0.01</text>
<line x1="40" y1="578.95" x2="45.1" y2="578.95" stroke="#444" stroke-width="0.8"/>
<line x1="42.6" y1="450.22" x2="44.2" y2="450.22" stroke="#444" stroke-width="0.6"/>
<line x1="42.6" y1="444.95" x2="44.2" y2="444.95" stroke="#444" stroke-width="0.6"/>
<line x1="42.6" y1="441.21" x2="44.2" y2="441.21" stroke="#444" stroke-width="0.6"/>
<line x1="42.6" y1="438.31" x2="44.2" y2="438.31" stroke="#444" stroke-width="0.6"/>
<line x1="42.6" y1="435.94" x2="44.2" y2="435.94" stroke="#444" stroke-width="0.6"/>
<line x1="42.6" y1="433.94" x2="44.2" y2="433.94" stroke="#444" stroke-width="0.6"/>
<line x1="42.6" y1="432.2" x2="44.2" y2="432.2" stroke="#444" stroke-width="0.6"/>
<line x1="42.6" y1="430.67" x2="44.2" y2="430.67" stroke="#444" stroke-width="0.6"/>
<line x1="42.6" y1="480.15" x2="44.2" y2="480.15" stroke="#444" stroke-width="0.6"/>
<line x1="42.6" y1="474.88" x2="44.2" y2="474.88" stroke="#444" stroke-width="0.6"/>
<line x1="42.6" y1="471.14" x2="44.2" y2="471.14" stroke="#444" stroke-width="0.6"/>
<line x1="42.6" y1="468.24" x2="44.2" y2="468.24" stroke="#444" stroke-width="0.6"/>
<line x1="42.6" y1="465.87" x2="44.2" y2="465.87" stroke="#444" stroke-width="0.6"/>
<line x1="42.6" y1="463.87" x2="44.2" y2="463.87" stroke="#444" stroke-width="0.6"/>
<line x1="42.6" y1="462.13" x2="44.2" y2="462.13" stroke="#444" stroke-width="0.6"/>
<line x1="42.6" y1="460.6" x2="44.2" y2="460.6" stroke="#444" stroke-width="0.6"/>
<line x1="42.6" y1="510.08" x2="44.2" y2="510.08" stroke="#444" stroke-width="0.6"/>
<line x1="42.6" y1="504.81" x2="44.2" y2="504.81" stroke="#444" stroke-width="0.6"/>
<line x1="42.6" y1="501.07" x2="44.2" y2="501.07" stroke="#444" stroke-width="0.6"/>
<line x1="42.6" y1="498.17" x2="44.2" y2="498.17" stroke="#444" stroke-width="0.6"/>
<line x1="42.6" y1="495.8" x2="44.2" y2="495.8" stroke="#444" stroke-width="0.6"/>
<line x1="42.6" y1="493.8" x2="44.2" y2="493.8" stroke="#444" stroke-width="0.6"/>
<line x1="42.6" y1="492.06" x2="44.2" y2="492.06" stroke="#444" stroke-width="0.6"/>
<line x1="42.6" y1="490.53" x2="44.2" y2="490.53" stroke="#444" stroke-width="0.6"/>
<line x1="42.6" y1="540.01" x2="44.2" y2="540.01" stroke="#444" stroke-width="0.6"/>
<line x1="42.6" y1="534.74" x2="44.2" y2="534.74" stroke="#444" stroke-width="0.6"/>
<line x1="42.6" y1="531" x2="44.2" y2="531" stroke="#444" stroke-width="0.6"/>
<line x1="42.6" y1="528.1" x2="44.2" y2="528.1" stroke="#444" stroke-width="0.6"/>
<line x1="42.6" y1="525.73" x2="44.2" y2="525.73" stroke="#444" stroke-width="0.6"/>
<line x1="42.6" y1="523.73" x2="44.2" y2="523.73" stroke="#444" stroke-width="0.6"/>
<line x1="42.6" y1="521.99" x2="44.2" y2="521.99" stroke="#444" stroke-width="0.6"/>
<line x1="42.6" y1="520.46" x2="44.2" y2="520.46" stroke="#444" stroke-width="0.6"/>
<line x1="42.6" y1="569.94" x2="44.2" y2="569.94" stroke="#444" stroke-width="0.6"/>
<line x1="42.6" y1="564.67" x2="44.2" y2="564.67" stroke="#444" stroke-width="0.6"/>
<line x1="42.6" y1="560.93" x2="44.2" y2="560.93" stroke="#444" stroke-width="0.6"/>
<line x1="42.6" y1="558.03" x2="44.2" y2="558.03" stroke="#444" stroke-width="0.6"/>
<line x1="42.6" y1="555.66" x2="44.2" y2="555.66" stroke="#444" stroke-width="0.6"/>
<line x1="42.6" y1="553.66" x2="44.2" y2="553.66" stroke="#444" stroke-width="0.6"/>
<line x1="42.6" y1="551.92" x2="44.2" y2="551.92" stroke="#444" stroke-width="0.6"/>
<line x1="42.6" y1="550.39" x2="44.2" y2="550.39" stroke="#444" stroke-width="0.6"/>
<line x1="114" y1="578.9" x2="114" y2="575.4" stroke="#444" stroke-width="0.8"/>
<text x="114" y="591.74" font-size="9" text-anchor="middle" fill="#1e1e1e">0.01</text>
<line x1="253" y1="578.9" x2="253" y2="575.4" stroke="#444" stroke-width="0.8"/>
<text x="253" y="591.74" font-size="9" text-anchor="middle" fill="#1e1e1e">0.1</text>
<line x1="58.69" y1="578.9" x2="58.69" y2="577.1" stroke="#444" stroke-width="0.7"/>
<line x1="72.16" y1="578.9" x2="72.16" y2="577.1" stroke="#444" stroke-width="0.7"/>
<line x1="83.16" y1="578.9" x2="83.16" y2="577.1" stroke="#444" stroke-width="0.7"/>
<line x1="92.47" y1="578.9" x2="92.47" y2="577.1" stroke="#444" stroke-width="0.7"/>
<line x1="100.53" y1="578.9" x2="100.53" y2="577.1" stroke="#444" stroke-width="0.7"/>
<line x1="107.64" y1="578.9" x2="107.64" y2="577.1" stroke="#444" stroke-width="0.7"/>
<line x1="155.84" y1="578.9" x2="155.84" y2="577.1" stroke="#444" stroke-width="0.7"/>
<line x1="180.32" y1="578.9" x2="180.32" y2="577.1" stroke="#444" stroke-width="0.7"/>
<line x1="197.69" y1="578.9" x2="197.69" y2="577.1" stroke="#444" stroke-width="0.7"/>
<line x1="211.16" y1="578.9" x2="211.16" y2="577.1" stroke="#444" stroke-width="0.7"/>
<line x1="222.16" y1="578.9" x2="222.16" y2="577.1" stroke="#444" stroke-width="0.7"/>
<line x1="231.47" y1="578.9" x2="231.47" y2="577.1" stroke="#444" stroke-width="0.7"/>
<line x1="239.53" y1="578.9" x2="239.53" y2="577.1" stroke="#444" stroke-width="0.7"/>
<line x1="246.64" y1="578.9" x2="246.64" y2="577.1" stroke="#444" stroke-width="0.7"/>
<line x1="294.84" y1="578.9" x2="294.84" y2="577.1" stroke="#444" stroke-width="0.7"/>
<line x1="319.32" y1="578.9" x2="319.32" y2="577.1" stroke="#444" stroke-width="0.7"/>
<text transform="translate(12.8,504) rotate(-90)" font-size="10.4" text-anchor="middle" fill="#1e1e1e">Intensity (arb. unit)</text>
<text x="186" y="603.2" font-size="10" text-anchor="middle" fill="#1e1e1e">q (Å<tspan font-size="6.5" dy="-3.5">−1</tspan><tspan dy="3.5">)</tspan></text>
<text x="7.8" y="419.64" font-size="9" text-anchor="start" fill="#111" font-weight="bold">e</text>
<text x="109.2" y="566.3" font-size="10" text-anchor="start" fill="#1e1e1e">DAB-fractal model</text>
<text x="247.3" y="438.3" font-size="8.6" text-anchor="start" fill="#1e1e1e">BTR:L8-BO</text>
<circle cx="256.5" cy="445.7" r="2.6" fill="none" stroke="#44a9c8" stroke-width="0.9"/>
<text x="268.8" y="448.8" font-size="8.6" text-anchor="start" fill="#1e1e1e">0.4 wt. % TEBS</text>
<line x1="247.3" y1="456.6" x2="265.9" y2="456.6" stroke="#1f3e6e" stroke-width="1.3"/>
<text x="268.8" y="459.7" font-size="8.6" text-anchor="start" fill="#1e1e1e">Fit (TEBS)</text>
<circle cx="256.5" cy="467.2" r="2.6" fill="none" stroke="#e9a3a3" stroke-width="0.9"/>
<text x="268.8" y="470.3" font-size="8.6" text-anchor="start" fill="#1e1e1e">0.05 wt. % SDS</text>
<line x1="247.3" y1="477.7" x2="265.9" y2="477.7" stroke="#b3181b" stroke-width="1.3"/>
<text x="268.8" y="480.8" font-size="8.6" text-anchor="start" fill="#1e1e1e">Fit (SDS)</text>
<g fill="none" stroke="#44a9c8" stroke-width="1">
<circle cx="57.5" cy="486.1" r="2.6"/><circle cx="61.7" cy="466.7" r="2.6"/><circle cx="65.3" cy="457.9" r="2.6"/><circle cx="69.2" cy="457.9" r="2.6"/><circle cx="72.16" cy="458.67" r="2.6"/><circle cx="75.67" cy="460.33" r="2.6"/><circle cx="79" cy="461.69" r="2.6"/><circle cx="82.15" cy="462.99" r="2.6"/><circle cx="85.14" cy="464.58" r="2.6"/><circle cx="87.99" cy="467.19" r="2.6"/><circle cx="90.72" cy="468.07" r="2.6"/><circle cx="93.32" cy="469.33" r="2.6"/><circle cx="95.82" cy="472.04" r="2.6"/><circle cx="98.22" cy="473.37" r="2.6"/><circle cx="100.53" cy="474.97" r="2.6"/><circle cx="102.75" cy="475.08" r="2.6"/><circle cx="104.9" cy="476.88" r="2.6"/><circle cx="106.97" cy="477.87" r="2.6"/><circle cx="108.97" cy="477.76" r="2.6"/><circle cx="110.9" cy="480.19" r="2.6"/><circle cx="112.78" cy="480.86" r="2.6"/><circle cx="114.6" cy="483.19" r="2.6"/><circle cx="116.37" cy="482.27" r="2.6"/><circle cx="118.08" cy="482.69" r="2.6"/><circle cx="119.75" cy="484.35" r="2.6"/><circle cx="121.38" cy="484.17" r="2.6"/><circle cx="122.96" cy="485.26" r="2.6"/><circle cx="124.5" cy="484.82" r="2.6"/><circle cx="126" cy="485.75" r="2.6"/><circle cx="127.47" cy="486.81" r="2.6"/><circle cx="128.9" cy="487" r="2.6"/><circle cx="130.3" cy="486.99" r="2.6"/><circle cx="131.67" cy="486.47" r="2.6"/><circle cx="133" cy="487.99" r="2.6"/><circle cx="134.31" cy="488.07" r="2.6"/><circle cx="135.59" cy="488.89" r="2.6"/><circle cx="136.85" cy="488.83" r="2.6"/><circle cx="138.07" cy="489.8" r="2.6"/><circle cx="139.28" cy="489.24" r="2.6"/><circle cx="140.46" cy="489.72" r="2.6"/><circle cx="141.61" cy="490.34" r="2.6"/><circle cx="142.75" cy="489.3" r="2.6"/><circle cx="143.86" cy="490.07" r="2.6"/><circle cx="144.96" cy="490.25" r="2.6"/><circle cx="146.03" cy="492.36" r="2.6"/><circle cx="147.09" cy="491.05" r="2.6"/><circle cx="148.13" cy="491.84" r="2.6"/><circle cx="149.15" cy="492.05" r="2.6"/><circle cx="150.15" cy="491.61" r="2.6"/><circle cx="151.14" cy="490.88" r="2.6"/><circle cx="152.11" cy="492.99" r="2.6"/><circle cx="153.06" cy="492.18" r="2.6"/><circle cx="154" cy="493.24" r="2.6"/><circle cx="154.93" cy="491.94" r="2.6"/><circle cx="155.84" cy="492.8" r="2.6"/><circle cx="156.74" cy="494.28" r="2.6"/><circle cx="157.63" cy="494.62" r="2.6"/><circle cx="158.5" cy="492.78" r="2.6"/><circle cx="159.36" cy="492.96" r="2.6"/><circle cx="160.21" cy="494.14" r="2.6"/><circle cx="161.05" cy="494.92" r="2.6"/><circle cx="161.87" cy="494.7" r="2.6"/><circle cx="162.68" cy="495.02" r="2.6"/><circle cx="163.49" cy="494.25" r="2.6"/><circle cx="164.28" cy="495.64" r="2.6"/><circle cx="165.06" cy="496.24" r="2.6"/><circle cx="165.83" cy="495.28" r="2.6"/><circle cx="166.6" cy="494.74" r="2.6"/><circle cx="167.35" cy="495.45" r="2.6"/><circle cx="168.09" cy="496.8" r="2.6"/><circle cx="168.83" cy="495.13" r="2.6"/><circle cx="169.55" cy="496.57" r="2.6"/><circle cx="170.27" cy="496.1" r="2.6"/><circle cx="170.98" cy="496.95" r="2.6"/><circle cx="171.68" cy="497.07" r="2.6"/><circle cx="172.37" cy="497.48" r="2.6"/><circle cx="173.06" cy="498.8" r="2.6"/><circle cx="173.74" cy="498.2" r="2.6"/><circle cx="174.41" cy="499.09" r="2.6"/><circle cx="175.07" cy="498.19" r="2.6"/><circle cx="175.72" cy="498.15" r="2.6"/><circle cx="176.37" cy="499" r="2.6"/><circle cx="177.01" cy="496.8" r="2.6"/><circle cx="177.65" cy="499.11" r="2.6"/><circle cx="178.27" cy="499.47" r="2.6"/><circle cx="178.89" cy="498.63" r="2.6"/><circle cx="179.51" cy="500.12" r="2.6"/><circle cx="180.12" cy="499.57" r="2.6"/><circle cx="180.72" cy="498.35" r="2.6"/><circle cx="181.32" cy="500.25" r="2.6"/><circle cx="181.91" cy="499.89" r="2.6"/><circle cx="182.49" cy="500.44" r="2.6"/><circle cx="183.07" cy="500.93" r="2.6"/><circle cx="183.65" cy="502.2" r="2.6"/><circle cx="184.22" cy="501.55" r="2.6"/><circle cx="184.78" cy="501.67" r="2.6"/><circle cx="185.34" cy="502.2" r="2.6"/><circle cx="185.89" cy="500.76" r="2.6"/><circle cx="186.98" cy="501.74" r="2.6"/><circle cx="188.05" cy="502.13" r="2.6"/><circle cx="189.11" cy="503.11" r="2.6"/><circle cx="190.14" cy="504.36" r="2.6"/><circle cx="191.16" cy="504.05" r="2.6"/><circle cx="192.16" cy="504.67" r="2.6"/><circle cx="193.14" cy="505.66" r="2.6"/><circle cx="194.11" cy="505.3" r="2.6"/><circle cx="195.06" cy="505.43" r="2.6"/><circle cx="196" cy="506.49" r="2.6"/><circle cx="196.93" cy="507.71" r="2.6"/><circle cx="197.84" cy="506.22" r="2.6"/><circle cx="198.73" cy="506.35" r="2.6"/><circle cx="199.62" cy="509.53" r="2.6"/><circle cx="200.92" cy="508.87" r="2.6"/><circle cx="202.19" cy="508.65" r="2.6"/><circle cx="203.44" cy="509.76" r="2.6"/><circle cx="204.66" cy="511.49" r="2.6"/><circle cx="205.86" cy="510.93" r="2.6"/><circle cx="207.04" cy="512.69" r="2.6"/><circle cx="208.19" cy="511.86" r="2.6"/><circle cx="209.32" cy="514.18" r="2.6"/><circle cx="210.43" cy="512.23" r="2.6"/><circle cx="211.52" cy="514.14" r="2.6"/><circle cx="212.59" cy="515.44" r="2.6"/><circle cx="213.64" cy="514.23" r="2.6"/><circle cx="214.67" cy="516.13" r="2.6"/><circle cx="215.69" cy="517.64" r="2.6"/><circle cx="216.69" cy="516.34" r="2.6"/><circle cx="217.67" cy="517.7" r="2.6"/><circle cx="218.64" cy="517.34" r="2.6"/><circle cx="219.59" cy="520.45" r="2.6"/><circle cx="220.53" cy="518.98" r="2.6"/><circle cx="221.45" cy="519.31" r="2.6"/><circle cx="222.36" cy="519.48" r="2.6"/><circle cx="223.56" cy="520.33" r="2.6"/><circle cx="224.72" cy="521.64" r="2.6"/><circle cx="225.87" cy="522.94" r="2.6"/><circle cx="226.99" cy="521.66" r="2.6"/><circle cx="228.1" cy="523.33" r="2.6"/><circle cx="229.18" cy="523.34" r="2.6"/><circle cx="230.25" cy="524.99" r="2.6"/><circle cx="231.3" cy="522.18" r="2.6"/><circle cx="232.32" cy="525.8" r="2.6"/><circle cx="233.34" cy="525.92" r="2.6"/><circle cx="234.33" cy="525.96" r="2.6"/><circle cx="235.31" cy="528.67" r="2.6"/><circle cx="236.27" cy="527.55" r="2.6"/><circle cx="237.22" cy="528.23" r="2.6"/><circle cx="238.16" cy="528.46" r="2.6"/><circle cx="239.08" cy="529.35" r="2.6"/><circle cx="239.98" cy="530.06" r="2.6"/><circle cx="241.09" cy="529.58" r="2.6"/><circle cx="242.19" cy="530.86" r="2.6"/><circle cx="243.26" cy="531.07" r="2.6"/><circle cx="244.31" cy="529.46" r="2.6"/><circle cx="245.35" cy="532.66" r="2.6"/><circle cx="246.37" cy="532.83" r="2.6"/><circle cx="247.37" cy="532.8" r="2.6"/><circle cx="248.36" cy="533.18" r="2.6"/><circle cx="249.33" cy="532.08" r="2.6"/><circle cx="250.28" cy="534.32" r="2.6"/><circle cx="251.22" cy="532.99" r="2.6"/><circle cx="252.15" cy="533.68" r="2.6"/><circle cx="253.06" cy="535.7" r="2.6"/><circle cx="254.14" cy="535.46" r="2.6"/><circle cx="255.19" cy="537.01" r="2.6"/><circle cx="256.23" cy="535.47" r="2.6"/><circle cx="257.25" cy="535.43" r="2.6"/><circle cx="258.26" cy="536.14" r="2.6"/><circle cx="259.25" cy="534.89" r="2.6"/><circle cx="260.22" cy="537.24" r="2.6"/><circle cx="261.17" cy="536.91" r="2.6"/><circle cx="262.12" cy="538.02" r="2.6"/><circle cx="263.04" cy="537.62" r="2.6"/><circle cx="263.96" cy="537.18" r="2.6"/><circle cx="265" cy="537.64" r="2.6"/><circle cx="266.03" cy="538.52" r="2.6"/><circle cx="267.05" cy="538.97" r="2.6"/><circle cx="268.04" cy="538.3" r="2.6"/><circle cx="269.02" cy="540.19" r="2.6"/><circle cx="269.99" cy="540.3" r="2.6"/><circle cx="270.94" cy="540.05" r="2.6"/><circle cx="271.87" cy="541.42" r="2.6"/><circle cx="272.4" cy="537.65" r="2.6"/><circle cx="272.92" cy="541.25" r="2.6"/><circle cx="273.44" cy="540.14" r="2.6"/><circle cx="273.96" cy="539.79" r="2.6"/><circle cx="274.46" cy="539.31" r="2.6"/><circle cx="274.97" cy="539.59" r="2.6"/><circle cx="275.47" cy="538.16" r="2.6"/><circle cx="275.97" cy="539.87" r="2.6"/><circle cx="276.46" cy="538.72" r="2.6"/><circle cx="276.95" cy="539.47" r="2.6"/><circle cx="277.44" cy="540.47" r="2.6"/><circle cx="277.92" cy="539.91" r="2.6"/><circle cx="278.4" cy="537.85" r="2.6"/><circle cx="278.87" cy="539.08" r="2.6"/><circle cx="279.34" cy="539.44" r="2.6"/><circle cx="279.81" cy="540.13" r="2.6"/><circle cx="280.27" cy="537.67" r="2.6"/><circle cx="280.73" cy="539.14" r="2.6"/><circle cx="281.18" cy="542.61" r="2.6"/><circle cx="281.64" cy="545.57" r="2.6"/><circle cx="282.2" cy="539.14" r="2.6"/><circle cx="282.75" cy="539.64" r="2.6"/><circle cx="283.3" cy="542.45" r="2.6"/><circle cx="283.85" cy="535.7" r="2.6"/><circle cx="284.39" cy="539.56" r="2.6"/><circle cx="284.93" cy="535.59" r="2.6"/><circle cx="285.46" cy="542.14" r="2.6"/><circle cx="285.98" cy="543.35" r="2.6"/><circle cx="286.51" cy="540.94" r="2.6"/><circle cx="287.02" cy="538.23" r="2.6"/><circle cx="287.54" cy="542.39" r="2.6"/><circle cx="288.05" cy="549.16" r="2.6"/><circle cx="288.55" cy="545.58" r="2.6"/><circle cx="289.05" cy="539.79" r="2.6"/><circle cx="289.55" cy="534.55" r="2.6"/><circle cx="288.2" cy="563.9" r="2.6"/><circle cx="286.6" cy="555.5" r="2.6"/><circle cx="283" cy="553" r="2.6"/><circle cx="289" cy="548.5" r="2.6"/><circle cx="291" cy="551" r="2.6"/><circle cx="284.5" cy="547" r="2.6"/><circle cx="280" cy="545" r="2.6"/><circle cx="289.7" cy="532.6" r="2.6"/><circle cx="286" cy="533.5" r="2.6"/><circle cx="282" cy="534" r="2.6"/><circle cx="277" cy="533.2" r="2.6"/><circle cx="273" cy="533.8" r="2.6"/>
</g>
<polyline fill="none" stroke="#1f3e6e" stroke-width="1.2" stroke-linejoin="round" points="72.9,458.26 74,458.84 76,459.93 78,461.08 80,462.26 82,463.47 84,464.7 86,465.93 88,467.17 90,468.4 92,469.61 94,470.81 96,471.99 98,473.15 100,474.27 102,475.36 104,476.42 106,477.44 108,478.42 110,479.37 112,480.28 114,481.14 116,481.97 118,482.77 120,483.52 122,484.24 124,484.93 126,485.58 128,486.21 130,486.81 132,487.38 134,487.93 136,488.45 138,488.96 140,489.45 142,489.94 144,490.41 146,490.87 148,491.33 150,491.78 152,492.24 154,492.7 156,493.16 158,493.64 160,494.12 162,494.62 164,495.13 166,495.65 168,496.2 170,496.77 172,497.35 174,497.96 176,498.6 178,499.26 180,499.94 182,500.66 184,501.39"/>
<g fill="none" stroke="#e9a3a3" stroke-width="1">
<circle cx="103.8" cy="527.9" r="2.6"/><circle cx="108.5" cy="498.6" r="2.6"/><circle cx="112.6" cy="469.6" r="2.6"/><circle cx="115.9" cy="458.84" r="2.6"/><circle cx="119.64" cy="459.81" r="2.6"/><circle cx="123.17" cy="461.68" r="2.6"/><circle cx="126.5" cy="463.61" r="2.6"/><circle cx="129.65" cy="465.95" r="2.6"/><circle cx="132.65" cy="467.27" r="2.6"/><circle cx="135.51" cy="469.07" r="2.6"/><circle cx="138.23" cy="470.49" r="2.6"/><circle cx="140.84" cy="471.84" r="2.6"/><circle cx="143.35" cy="473.17" r="2.6"/><circle cx="145.75" cy="474.24" r="2.6"/><circle cx="148.06" cy="475.6" r="2.6"/><circle cx="150.28" cy="476.53" r="2.6"/><circle cx="152.43" cy="478.72" r="2.6"/><circle cx="154.5" cy="479.57" r="2.6"/><circle cx="156.5" cy="479.41" r="2.6"/><circle cx="158.44" cy="483.43" r="2.6"/><circle cx="160.32" cy="483.78" r="2.6"/><circle cx="162.14" cy="484.81" r="2.6"/><circle cx="163.91" cy="486.62" r="2.6"/><circle cx="165.63" cy="487.76" r="2.6"/><circle cx="167.3" cy="488.78" r="2.6"/><circle cx="168.93" cy="489.35" r="2.6"/><circle cx="170.51" cy="491.07" r="2.6"/><circle cx="172.05" cy="491.1" r="2.6"/><circle cx="173.56" cy="493.95" r="2.6"/><circle cx="175.02" cy="493.36" r="2.6"/><circle cx="176.46" cy="495" r="2.6"/><circle cx="177.86" cy="496.12" r="2.6"/><circle cx="179.22" cy="497.19" r="2.6"/><circle cx="180.56" cy="497.69" r="2.6"/><circle cx="181.87" cy="499.47" r="2.6"/><circle cx="183.15" cy="495.4" r="2.6"/><circle cx="184.4" cy="500.34" r="2.6"/><circle cx="185.63" cy="501.11" r="2.6"/><circle cx="186.84" cy="501.59" r="2.6"/><circle cx="188.02" cy="504.74" r="2.6"/><circle cx="189.18" cy="502.5" r="2.6"/><circle cx="190.31" cy="504.33" r="2.6"/><circle cx="191.43" cy="502.7" r="2.6"/><circle cx="192.52" cy="506.16" r="2.6"/><circle cx="193.6" cy="504.54" r="2.6"/><circle cx="194.65" cy="505.25" r="2.6"/><circle cx="195.69" cy="510.62" r="2.6"/><circle cx="196.71" cy="509.26" r="2.6"/><circle cx="197.72" cy="509.01" r="2.6"/><circle cx="198.7" cy="509.83" r="2.6"/><circle cx="199.68" cy="508.47" r="2.6"/><circle cx="200.63" cy="509.52" r="2.6"/><circle cx="201.57" cy="511.87" r="2.6"/><circle cx="202.5" cy="509.35" r="2.6"/><circle cx="203.41" cy="512.79" r="2.6"/><circle cx="205.2" cy="513.66" r="2.6"/><circle cx="206.93" cy="516.66" r="2.6"/><circle cx="208.62" cy="514.87" r="2.6"/><circle cx="210.26" cy="515.48" r="2.6"/><circle cx="211.85" cy="516.13" r="2.6"/><circle cx="213.41" cy="519.41" r="2.6"/><circle cx="214.92" cy="518.5" r="2.6"/><circle cx="216.4" cy="519.48" r="2.6"/><circle cx="217.85" cy="520.22" r="2.6"/><circle cx="219.26" cy="521.02" r="2.6"/><circle cx="220.63" cy="522.2" r="2.6"/><circle cx="221.98" cy="521.67" r="2.6"/><circle cx="223.3" cy="524.43" r="2.6"/><circle cx="224.59" cy="524.11" r="2.6"/><circle cx="225.85" cy="524.56" r="2.6"/><circle cx="227.09" cy="523.6" r="2.6"/><circle cx="228.3" cy="525.28" r="2.6"/><circle cx="229.49" cy="525.62" r="2.6"/><circle cx="230.65" cy="525.57" r="2.6"/><circle cx="231.8" cy="529.15" r="2.6"/><circle cx="232.92" cy="528.07" r="2.6"/><circle cx="234.02" cy="526.93" r="2.6"/><circle cx="235.1" cy="530.54" r="2.6"/><circle cx="236.16" cy="529.52" r="2.6"/><circle cx="237.21" cy="529.34" r="2.6"/><circle cx="238.23" cy="531.14" r="2.6"/><circle cx="239.24" cy="531.47" r="2.6"/><circle cx="240.23" cy="530.7" r="2.6"/><circle cx="241.21" cy="530.91" r="2.6"/><circle cx="242.17" cy="530.53" r="2.6"/><circle cx="243.12" cy="533.24" r="2.6"/><circle cx="244.05" cy="532.15" r="2.6"/><circle cx="244.97" cy="532.23" r="2.6"/><circle cx="245.87" cy="532.86" r="2.6"/><circle cx="247.2" cy="533.94" r="2.6"/><circle cx="248.5" cy="533.84" r="2.6"/><circle cx="249.78" cy="535.69" r="2.6"/><circle cx="251.02" cy="533.05" r="2.6"/><circle cx="252.25" cy="534.34" r="2.6"/><circle cx="253.45" cy="536.08" r="2.6"/><circle cx="254.62" cy="534.65" r="2.6"/><circle cx="255.77" cy="535.98" r="2.6"/><circle cx="256.9" cy="535.42" r="2.6"/><circle cx="258.01" cy="536.91" r="2.6"/><circle cx="259.1" cy="537.76" r="2.6"/><circle cx="260.17" cy="538.34" r="2.6"/><circle cx="261.23" cy="541.22" r="2.6"/><circle cx="262.26" cy="539.26" r="2.6"/><circle cx="263.28" cy="536.71" r="2.6"/><circle cx="264.28" cy="537.61" r="2.6"/><circle cx="265.26" cy="539.08" r="2.6"/><circle cx="266.23" cy="539.32" r="2.6"/><circle cx="267.18" cy="539.85" r="2.6"/><circle cx="268.12" cy="540.3" r="2.6"/><circle cx="269.04" cy="539.06" r="2.6"/><circle cx="269.95" cy="542.45" r="2.6"/><circle cx="271.14" cy="540.78" r="2.6"/><circle cx="272.02" cy="538.22" r="2.6"/><circle cx="272.6" cy="538.31" r="2.6"/><circle cx="273.17" cy="542.16" r="2.6"/><circle cx="273.74" cy="541.86" r="2.6"/><circle cx="274.3" cy="541.13" r="2.6"/><circle cx="274.86" cy="539.61" r="2.6"/><circle cx="275.41" cy="540.88" r="2.6"/><circle cx="275.96" cy="541.32" r="2.6"/><circle cx="276.5" cy="541.84" r="2.6"/><circle cx="277.04" cy="544.18" r="2.6"/><circle cx="277.57" cy="540.24" r="2.6"/><circle cx="278.1" cy="540.93" r="2.6"/><circle cx="278.62" cy="542.16" r="2.6"/><circle cx="279.14" cy="542.44" r="2.6"/><circle cx="279.66" cy="544.09" r="2.6"/><circle cx="280.17" cy="542.71" r="2.6"/><circle cx="280.67" cy="543.8" r="2.6"/><circle cx="281.18" cy="537.87" r="2.6"/><circle cx="281.67" cy="545.12" r="2.6"/><circle cx="282.17" cy="544.35" r="2.6"/><circle cx="282.66" cy="541.88" r="2.6"/><circle cx="283.14" cy="544.87" r="2.6"/><circle cx="283.62" cy="544.12" r="2.6"/><circle cx="284.1" cy="543.21" r="2.6"/><circle cx="284.58" cy="541.46" r="2.6"/><circle cx="285.05" cy="539.09" r="2.6"/><circle cx="285.51" cy="538.67" r="2.6"/><circle cx="285.98" cy="541.78" r="2.6"/><circle cx="286.44" cy="544.23" r="2.6"/><circle cx="286.89" cy="541.14" r="2.6"/><circle cx="287.35" cy="542.88" r="2.6"/><circle cx="288.02" cy="538.46" r="2.6"/><circle cx="288.68" cy="543.26" r="2.6"/><circle cx="289.34" cy="539.71" r="2.6"/><circle cx="289.99" cy="541.15" r="2.6"/><circle cx="290.64" cy="535.7" r="2.6"/><circle cx="291.27" cy="544.07" r="2.6"/><circle cx="291.91" cy="540.59" r="2.6"/><circle cx="292.53" cy="544.89" r="2.6"/><circle cx="293.15" cy="543.89" r="2.6"/><circle cx="293.76" cy="538.86" r="2.6"/><circle cx="294.36" cy="533.9" r="2.6"/><circle cx="294.96" cy="544.18" r="2.6"/><circle cx="295.56" cy="537.75" r="2.6"/><circle cx="296.15" cy="543.62" r="2.6"/><circle cx="296.73" cy="546.76" r="2.6"/><circle cx="297.3" cy="548.57" r="2.6"/><circle cx="297.87" cy="539.93" r="2.6"/><circle cx="298.44" cy="545.43" r="2.6"/><circle cx="299" cy="541.29" r="2.6"/><circle cx="299.56" cy="542.27" r="2.6"/><circle cx="300.11" cy="543.89" r="2.6"/><circle cx="300.65" cy="543.61" r="2.6"/><circle cx="301.19" cy="545.91" r="2.6"/><circle cx="301.73" cy="544.27" r="2.6"/><circle cx="302.26" cy="542.53" r="2.6"/><circle cx="302.78" cy="540.61" r="2.6"/><circle cx="303.31" cy="536.48" r="2.6"/><circle cx="303.82" cy="535.78" r="2.6"/><circle cx="304.34" cy="539.31" r="2.6"/><circle cx="304.84" cy="539.43" r="2.6"/><circle cx="305.35" cy="537.51" r="2.6"/><circle cx="305.85" cy="544.19" r="2.6"/><circle cx="306.35" cy="544.26" r="2.6"/><circle cx="306.84" cy="530.11" r="2.6"/><circle cx="307.33" cy="535.59" r="2.6"/><circle cx="307.81" cy="543.56" r="2.6"/><circle cx="308.29" cy="543.95" r="2.6"/><circle cx="308.77" cy="541.33" r="2.6"/><circle cx="309.24" cy="540.24" r="2.6"/><circle cx="309.71" cy="538.69" r="2.6"/><circle cx="310.17" cy="546.88" r="2.6"/><circle cx="310.63" cy="545.84" r="2.6"/><circle cx="311.09" cy="527.85" r="2.6"/><circle cx="311.55" cy="545.13" r="2.6"/><circle cx="312" cy="527.65" r="2.6"/><circle cx="312.6" cy="531.21" r="2.6"/><circle cx="313.19" cy="536.94" r="2.6"/><circle cx="313.77" cy="549.89" r="2.6"/><circle cx="314.35" cy="532.91" r="2.6"/><circle cx="314.93" cy="545.9" r="2.6"/><circle cx="315.49" cy="523.33" r="2.6"/><circle cx="316.06" cy="529.29" r="2.6"/><circle cx="316.62" cy="542.32" r="2.6"/><circle cx="317.17" cy="544.36" r="2.6"/><circle cx="317.72" cy="541.88" r="2.6"/><circle cx="318.26" cy="530.09" r="2.6"/><circle cx="318.8" cy="522.84" r="2.6"/><circle cx="319.33" cy="534.46" r="2.6"/><circle cx="319.86" cy="528.22" r="2.6"/><circle cx="320.38" cy="535.8" r="2.6"/><circle cx="320.9" cy="535.73" r="2.6"/><circle cx="321.42" cy="539.06" r="2.6"/><circle cx="320.5" cy="565.3" r="2.6"/><circle cx="321.5" cy="523" r="2.6"/><circle cx="321.5" cy="530.7" r="2.6"/><circle cx="321.5" cy="535.4" r="2.6"/><circle cx="321.5" cy="541.6" r="2.6"/><circle cx="321.5" cy="548.2" r="2.6"/><circle cx="315.3" cy="529.5" r="2.6"/><circle cx="315" cy="548" r="2.6"/><circle cx="300" cy="549" r="2.6"/><circle cx="296" cy="550.5" r="2.6"/><circle cx="305" cy="535" r="2.6"/>
</g>
<polyline fill="none" stroke="#b3181b" stroke-width="1.5" stroke-linejoin="round" points="113.9,459.74 115.9,460.41 117.9,461.12 119.9,461.87 121.9,462.67 123.9,463.51 125.9,464.38 127.9,465.29 129.9,466.24 131.9,467.22 133.9,468.23 135.9,469.27 137.9,470.33 139.9,471.42 141.9,472.54 143.9,473.68 145.9,474.83 147.9,476.01 149.9,477.21 151.9,478.42 153.9,479.65 155.9,480.89 157.9,482.14 159.9,483.4 161.9,484.67 163.9,485.95 165.9,487.24 167.9,488.53 169.9,489.82 171.9,491.12 173.9,492.42 175.9,493.72 177.9,495.01 179.9,496.31 181.9,497.6 183.9,498.89 185.9,500.17 187.9,501.45 189.9,502.71 191.9,503.97 193.9,505.22 195.9,506.46 197.9,507.69 199.9,508.91 201.9,510.12 203.9,511.31 205.9,512.48 207.9,513.64 209.9,514.79 211.9,515.92 213.9,517.03 215.9,518.12 217.9,519.2 219.9,520.25 221.9,521.29 223.9,522.31 225.9,523.3 227.9,524.28 229.9,525.23 231.9,526.16 233.9,527.07 235.9,527.95 237.9,528.82 239.9,529.65 241.9,530.47 243.9,531.26 245.9,532.03 247.9,532.77 249.9,533.48 251.9,534.18 253.9,534.84 255.9,535.49 257.9,536.1 259.9,536.7 261.9,537.26 263.9,537.8 265.9,538.32 267.9,538.81 269.9,539.28 271.9,539.72 273.9,540.14 275.9,540.53 276.4,540.62"/>
<defs><filter id="soft"><feGaussianBlur stdDeviation="0.7"/></filter></defs>
<defs><clipPath id="dab"><circle cx="76.1" cy="548.6" r="20"/></clipPath></defs>
<g clip-path="url(#dab)">
<g filter="url(#soft)">
<rect x="55" y="528" width="42" height="42" fill="#5cb6cf"/>
<rect x="59" y="536.6" width="10" height="6.2" fill="#e98f8a"/>
<rect x="76.8" y="529" width="4.7" height="27" fill="#ea8f94"/>
<rect x="73.5" y="549" width="6.5" height="7" fill="#ef8aa0"/>
<rect x="59.8" y="550.6" width="5.4" height="9.4" fill="#ee8a90"/>
<rect x="90.8" y="535.9" width="6.2" height="14.7" fill="#e0949c"/>
<rect x="78.4" y="552.9" width="18.6" height="3.1" fill="#d99aa0"/>
<rect x="78.4" y="565" width="6.2" height="5" fill="#d99aa0"/>
<rect x="56" y="543" width="4" height="9" fill="#78b0e6"/>
<rect x="68" y="530" width="4" height="30" fill="#6ab4da"/>
<rect x="83" y="545" width="4" height="6" fill="#df9a90"/>
<rect x="64" y="542.8" width="2.5" height="5.2" fill="#e39890"/>
</g></g>
<rect x="376.6" y="429.3" width="286.9" height="149.6" fill="none" stroke="#666" stroke-width="1"/>
<line x1="376.6" y1="429.3" x2="663.5" y2="429.3" stroke="#444" stroke-width="1"/>
<line x1="376.6" y1="429.3" x2="376.6" y2="578.9" stroke="#555" stroke-width="1.1"/>
<line x1="376.6" y1="578.9" x2="663.5" y2="578.9" stroke="#555" stroke-width="1.1"/>
<text x="370.8" y="432.54" font-size="9" text-anchor="end" fill="#1e1e1e">1000</text>
<line x1="374" y1="429.3" x2="379.1" y2="429.3" stroke="#444" stroke-width="0.8"/>
<text x="370.8" y="462.47" font-size="9" text-anchor="end" fill="#1e1e1e">100</text>
<line x1="374" y1="459.23" x2="379.1" y2="459.23" stroke="#444" stroke-width="0.8"/>
<text x="370.8" y="492.4" font-size="9" text-anchor="end" fill="#1e1e1e">10</text>
<line x1="374" y1="489.16" x2="379.1" y2="489.16" stroke="#444" stroke-width="0.8"/>
<text x="370.8" y="522.33" font-size="9" text-anchor="end" fill="#1e1e1e">1</text>
<line x1="374" y1="519.09" x2="379.1" y2="519.09" stroke="#444" stroke-width="0.8"/>
<text x="370.8" y="552.26" font-size="9" text-anchor="end" fill="#1e1e1e">0.1</text>
<line x1="374" y1="549.02" x2="379.1" y2="549.02" stroke="#444" stroke-width="0.8"/>
<text x="370.8" y="582.19" font-size="9" text-anchor="end" fill="#1e1e1e">0.01</text>
<line x1="374" y1="578.95" x2="379.1" y2="578.95" stroke="#444" stroke-width="0.8"/>
<line x1="376.6" y1="450.22" x2="378.2" y2="450.22" stroke="#444" stroke-width="0.6"/>
<line x1="376.6" y1="444.95" x2="378.2" y2="444.95" stroke="#444" stroke-width="0.6"/>
<line x1="376.6" y1="441.21" x2="378.2" y2="441.21" stroke="#444" stroke-width="0.6"/>
<line x1="376.6" y1="438.31" x2="378.2" y2="438.31" stroke="#444" stroke-width="0.6"/>
<line x1="376.6" y1="435.94" x2="378.2" y2="435.94" stroke="#444" stroke-width="0.6"/>
<line x1="376.6" y1="433.94" x2="378.2" y2="433.94" stroke="#444" stroke-width="0.6"/>
<line x1="376.6" y1="432.2" x2="378.2" y2="432.2" stroke="#444" stroke-width="0.6"/>
<line x1="376.6" y1="430.67" x2="378.2" y2="430.67" stroke="#444" stroke-width="0.6"/>
<line x1="376.6" y1="480.15" x2="378.2" y2="480.15" stroke="#444" stroke-width="0.6"/>
<line x1="376.6" y1="474.88" x2="378.2" y2="474.88" stroke="#444" stroke-width="0.6"/>
<line x1="376.6" y1="471.14" x2="378.2" y2="471.14" stroke="#444" stroke-width="0.6"/>
<line x1="376.6" y1="468.24" x2="378.2" y2="468.24" stroke="#444" stroke-width="0.6"/>
<line x1="376.6" y1="465.87" x2="378.2" y2="465.87" stroke="#444" stroke-width="0.6"/>
<line x1="376.6" y1="463.87" x2="378.2" y2="463.87" stroke="#444" stroke-width="0.6"/>
<line x1="376.6" y1="462.13" x2="378.2" y2="462.13" stroke="#444" stroke-width="0.6"/>
<line x1="376.6" y1="460.6" x2="378.2" y2="460.6" stroke="#444" stroke-width="0.6"/>
<line x1="376.6" y1="510.08" x2="378.2" y2="510.08" stroke="#444" stroke-width="0.6"/>
<line x1="376.6" y1="504.81" x2="378.2" y2="504.81" stroke="#444" stroke-width="0.6"/>
<line x1="376.6" y1="501.07" x2="378.2" y2="501.07" stroke="#444" stroke-width="0.6"/>
<line x1="376.6" y1="498.17" x2="378.2" y2="498.17" stroke="#444" stroke-width="0.6"/>
<line x1="376.6" y1="495.8" x2="378.2" y2="495.8" stroke="#444" stroke-width="0.6"/>
<line x1="376.6" y1="493.8" x2="378.2" y2="493.8" stroke="#444" stroke-width="0.6"/>
<line x1="376.6" y1="492.06" x2="378.2" y2="492.06" stroke="#444" stroke-width="0.6"/>
<line x1="376.6" y1="490.53" x2="378.2" y2="490.53" stroke="#444" stroke-width="0.6"/>
<line x1="376.6" y1="540.01" x2="378.2" y2="540.01" stroke="#444" stroke-width="0.6"/>
<line x1="376.6" y1="534.74" x2="378.2" y2="534.74" stroke="#444" stroke-width="0.6"/>
<line x1="376.6" y1="531" x2="378.2" y2="531" stroke="#444" stroke-width="0.6"/>
<line x1="376.6" y1="528.1" x2="378.2" y2="528.1" stroke="#444" stroke-width="0.6"/>
<line x1="376.6" y1="525.73" x2="378.2" y2="525.73" stroke="#444" stroke-width="0.6"/>
<line x1="376.6" y1="523.73" x2="378.2" y2="523.73" stroke="#444" stroke-width="0.6"/>
<line x1="376.6" y1="521.99" x2="378.2" y2="521.99" stroke="#444" stroke-width="0.6"/>
<line x1="376.6" y1="520.46" x2="378.2" y2="520.46" stroke="#444" stroke-width="0.6"/>
<line x1="376.6" y1="569.94" x2="378.2" y2="569.94" stroke="#444" stroke-width="0.6"/>
<line x1="376.6" y1="564.67" x2="378.2" y2="564.67" stroke="#444" stroke-width="0.6"/>
<line x1="376.6" y1="560.93" x2="378.2" y2="560.93" stroke="#444" stroke-width="0.6"/>
<line x1="376.6" y1="558.03" x2="378.2" y2="558.03" stroke="#444" stroke-width="0.6"/>
<line x1="376.6" y1="555.66" x2="378.2" y2="555.66" stroke="#444" stroke-width="0.6"/>
<line x1="376.6" y1="553.66" x2="378.2" y2="553.66" stroke="#444" stroke-width="0.6"/>
<line x1="376.6" y1="551.92" x2="378.2" y2="551.92" stroke="#444" stroke-width="0.6"/>
<line x1="376.6" y1="550.39" x2="378.2" y2="550.39" stroke="#444" stroke-width="0.6"/>
<line x1="448" y1="578.9" x2="448" y2="575.4" stroke="#444" stroke-width="0.8"/>
<text x="448" y="591.74" font-size="9" text-anchor="middle" fill="#1e1e1e">0.01</text>
<line x1="587" y1="578.9" x2="587" y2="575.4" stroke="#444" stroke-width="0.8"/>
<text x="587" y="591.74" font-size="9" text-anchor="middle" fill="#1e1e1e">0.1</text>
<line x1="392.69" y1="578.9" x2="392.69" y2="577.1" stroke="#444" stroke-width="0.7"/>
<line x1="406.16" y1="578.9" x2="406.16" y2="577.1" stroke="#444" stroke-width="0.7"/>
<line x1="417.16" y1="578.9" x2="417.16" y2="577.1" stroke="#444" stroke-width="0.7"/>
<line x1="426.47" y1="578.9" x2="426.47" y2="577.1" stroke="#444" stroke-width="0.7"/>
<line x1="434.53" y1="578.9" x2="434.53" y2="577.1" stroke="#444" stroke-width="0.7"/>
<line x1="441.64" y1="578.9" x2="441.64" y2="577.1" stroke="#444" stroke-width="0.7"/>
<line x1="489.84" y1="578.9" x2="489.84" y2="577.1" stroke="#444" stroke-width="0.7"/>
<line x1="514.32" y1="578.9" x2="514.32" y2="577.1" stroke="#444" stroke-width="0.7"/>
<line x1="531.69" y1="578.9" x2="531.69" y2="577.1" stroke="#444" stroke-width="0.7"/>
<line x1="545.16" y1="578.9" x2="545.16" y2="577.1" stroke="#444" stroke-width="0.7"/>
<line x1="556.16" y1="578.9" x2="556.16" y2="577.1" stroke="#444" stroke-width="0.7"/>
<line x1="565.47" y1="578.9" x2="565.47" y2="577.1" stroke="#444" stroke-width="0.7"/>
<line x1="573.53" y1="578.9" x2="573.53" y2="577.1" stroke="#444" stroke-width="0.7"/>
<line x1="580.64" y1="578.9" x2="580.64" y2="577.1" stroke="#444" stroke-width="0.7"/>
<line x1="628.84" y1="578.9" x2="628.84" y2="577.1" stroke="#444" stroke-width="0.7"/>
<line x1="653.32" y1="578.9" x2="653.32" y2="577.1" stroke="#444" stroke-width="0.7"/>
<text transform="translate(352.2,504) rotate(-90)" font-size="10.4" text-anchor="middle" fill="#1e1e1e">Intensity (arb. unit)</text>
<text x="520" y="603.2" font-size="10" text-anchor="middle" fill="#1e1e1e">q (Å<tspan font-size="6.5" dy="-3.5">−1</tspan><tspan dy="3.5">)</tspan></text>
<text x="348.2" y="419.64" font-size="9" text-anchor="start" fill="#111" font-weight="bold">f</text>
<text x="445.9" y="563.8" font-size="10" text-anchor="start" fill="#1e1e1e">Core-shell model</text>
<text x="581.3" y="438.3" font-size="8.6" text-anchor="start" fill="#1e1e1e">BTR:L8-BO</text>
<circle cx="590.5" cy="445.7" r="2.6" fill="none" stroke="#44a9c8" stroke-width="0.9"/>
<text x="602.8" y="448.8" font-size="8.6" text-anchor="start" fill="#1e1e1e">0.4 wt. % TEBS</text>
<line x1="581.3" y1="456.6" x2="599.9" y2="456.6" stroke="#1f3e6e" stroke-width="1.3"/>
<text x="602.8" y="459.7" font-size="8.6" text-anchor="start" fill="#1e1e1e">Fit (TEBS)</text>
<circle cx="590.5" cy="467.2" r="2.6" fill="none" stroke="#e9a3a3" stroke-width="0.9"/>
<text x="602.8" y="470.3" font-size="8.6" text-anchor="start" fill="#1e1e1e">0.05 wt. % SDS</text>
<line x1="581.3" y1="477.7" x2="599.9" y2="477.7" stroke="#b3181b" stroke-width="1.3"/>
<text x="602.8" y="480.8" font-size="8.6" text-anchor="start" fill="#1e1e1e">Fit(SDS)</text>
<g fill="none" stroke="#44a9c8" stroke-width="1">
<circle cx="391.5" cy="486.1" r="2.6"/><circle cx="395.7" cy="466.7" r="2.6"/><circle cx="399.3" cy="457.9" r="2.6"/><circle cx="403.2" cy="457.9" r="2.6"/><circle cx="406.16" cy="458.67" r="2.6"/><circle cx="409.67" cy="460.33" r="2.6"/><circle cx="413" cy="461.69" r="2.6"/><circle cx="416.15" cy="462.99" r="2.6"/><circle cx="419.14" cy="464.58" r="2.6"/><circle cx="421.99" cy="467.19" r="2.6"/><circle cx="424.72" cy="468.07" r="2.6"/><circle cx="427.32" cy="469.33" r="2.6"/><circle cx="429.82" cy="472.04" r="2.6"/><circle cx="432.22" cy="473.37" r="2.6"/><circle cx="434.53" cy="474.97" r="2.6"/><circle cx="436.75" cy="475.08" r="2.6"/><circle cx="438.9" cy="476.88" r="2.6"/><circle cx="440.97" cy="477.87" r="2.6"/><circle cx="442.97" cy="477.76" r="2.6"/><circle cx="444.9" cy="480.19" r="2.6"/><circle cx="446.78" cy="480.86" r="2.6"/><circle cx="448.6" cy="483.19" r="2.6"/><circle cx="450.37" cy="482.27" r="2.6"/><circle cx="452.08" cy="482.69" r="2.6"/><circle cx="453.75" cy="484.35" r="2.6"/><circle cx="455.38" cy="484.17" r="2.6"/><circle cx="456.96" cy="485.26" r="2.6"/><circle cx="458.5" cy="484.82" r="2.6"/><circle cx="460" cy="485.75" r="2.6"/><circle cx="461.47" cy="486.81" r="2.6"/><circle cx="462.9" cy="487" r="2.6"/><circle cx="464.3" cy="486.99" r="2.6"/><circle cx="465.67" cy="486.47" r="2.6"/><circle cx="467" cy="487.99" r="2.6"/><circle cx="468.31" cy="488.07" r="2.6"/><circle cx="469.59" cy="488.89" r="2.6"/><circle cx="470.85" cy="488.83" r="2.6"/><circle cx="472.07" cy="489.8" r="2.6"/><circle cx="473.28" cy="489.24" r="2.6"/><circle cx="474.46" cy="489.72" r="2.6"/><circle cx="475.61" cy="490.34" r="2.6"/><circle cx="476.75" cy="489.3" r="2.6"/><circle cx="477.86" cy="490.07" r="2.6"/><circle cx="478.96" cy="490.25" r="2.6"/><circle cx="480.03" cy="492.36" r="2.6"/><circle cx="481.09" cy="491.05" r="2.6"/><circle cx="482.13" cy="491.84" r="2.6"/><circle cx="483.15" cy="492.05" r="2.6"/><circle cx="484.15" cy="491.61" r="2.6"/><circle cx="485.14" cy="490.88" r="2.6"/><circle cx="486.11" cy="492.99" r="2.6"/><circle cx="487.06" cy="492.18" r="2.6"/><circle cx="488" cy="493.24" r="2.6"/><circle cx="488.93" cy="491.94" r="2.6"/><circle cx="489.84" cy="492.8" r="2.6"/><circle cx="490.74" cy="494.28" r="2.6"/><circle cx="491.63" cy="494.62" r="2.6"/><circle cx="492.5" cy="492.78" r="2.6"/><circle cx="493.36" cy="492.96" r="2.6"/><circle cx="494.21" cy="494.14" r="2.6"/><circle cx="495.05" cy="494.92" r="2.6"/><circle cx="495.87" cy="494.7" r="2.6"/><circle cx="496.68" cy="495.02" r="2.6"/><circle cx="497.49" cy="494.25" r="2.6"/><circle cx="498.28" cy="495.64" r="2.6"/><circle cx="499.06" cy="496.24" r="2.6"/><circle cx="499.83" cy="495.28" r="2.6"/><circle cx="500.6" cy="494.74" r="2.6"/><circle cx="501.35" cy="495.45" r="2.6"/><circle cx="502.09" cy="496.8" r="2.6"/><circle cx="502.83" cy="495.13" r="2.6"/><circle cx="503.55" cy="496.57" r="2.6"/><circle cx="504.27" cy="496.1" r="2.6"/><circle cx="504.98" cy="496.95" r="2.6"/><circle cx="505.68" cy="497.07" r="2.6"/><circle cx="506.37" cy="497.48" r="2.6"/><circle cx="507.06" cy="498.8" r="2.6"/><circle cx="507.74" cy="498.2" r="2.6"/><circle cx="508.41" cy="499.09" r="2.6"/><circle cx="509.07" cy="498.19" r="2.6"/><circle cx="509.72" cy="498.15" r="2.6"/><circle cx="510.37" cy="499" r="2.6"/><circle cx="511.01" cy="496.8" r="2.6"/><circle cx="511.65" cy="499.11" r="2.6"/><circle cx="512.27" cy="499.47" r="2.6"/><circle cx="512.89" cy="498.63" r="2.6"/><circle cx="513.51" cy="500.12" r="2.6"/><circle cx="514.12" cy="499.57" r="2.6"/><circle cx="514.72" cy="498.35" r="2.6"/><circle cx="515.32" cy="500.25" r="2.6"/><circle cx="515.91" cy="499.89" r="2.6"/><circle cx="516.49" cy="500.44" r="2.6"/><circle cx="517.07" cy="500.93" r="2.6"/><circle cx="517.65" cy="502.2" r="2.6"/><circle cx="518.22" cy="501.55" r="2.6"/><circle cx="518.78" cy="501.67" r="2.6"/><circle cx="519.34" cy="502.2" r="2.6"/><circle cx="519.89" cy="500.76" r="2.6"/><circle cx="520.98" cy="501.74" r="2.6"/><circle cx="522.05" cy="502.13" r="2.6"/><circle cx="523.11" cy="503.11" r="2.6"/><circle cx="524.14" cy="504.36" r="2.6"/><circle cx="525.16" cy="504.05" r="2.6"/><circle cx="526.16" cy="504.67" r="2.6"/><circle cx="527.14" cy="505.66" r="2.6"/><circle cx="528.11" cy="505.3" r="2.6"/><circle cx="529.06" cy="505.43" r="2.6"/><circle cx="530" cy="506.49" r="2.6"/><circle cx="530.93" cy="507.71" r="2.6"/><circle cx="531.84" cy="506.22" r="2.6"/><circle cx="532.73" cy="506.35" r="2.6"/><circle cx="533.62" cy="509.53" r="2.6"/><circle cx="534.92" cy="508.87" r="2.6"/><circle cx="536.19" cy="508.65" r="2.6"/><circle cx="537.44" cy="509.76" r="2.6"/><circle cx="538.66" cy="511.49" r="2.6"/><circle cx="539.86" cy="510.93" r="2.6"/><circle cx="541.04" cy="512.69" r="2.6"/><circle cx="542.19" cy="511.86" r="2.6"/><circle cx="543.32" cy="514.18" r="2.6"/><circle cx="544.43" cy="512.23" r="2.6"/><circle cx="545.52" cy="514.14" r="2.6"/><circle cx="546.59" cy="515.44" r="2.6"/><circle cx="547.64" cy="514.23" r="2.6"/><circle cx="548.67" cy="516.13" r="2.6"/><circle cx="549.69" cy="517.64" r="2.6"/><circle cx="550.69" cy="516.34" r="2.6"/><circle cx="551.67" cy="517.7" r="2.6"/><circle cx="552.64" cy="517.34" r="2.6"/><circle cx="553.59" cy="520.45" r="2.6"/><circle cx="554.53" cy="518.98" r="2.6"/><circle cx="555.45" cy="519.31" r="2.6"/><circle cx="556.36" cy="519.48" r="2.6"/><circle cx="557.56" cy="520.33" r="2.6"/><circle cx="558.72" cy="521.64" r="2.6"/><circle cx="559.87" cy="522.94" r="2.6"/><circle cx="560.99" cy="521.66" r="2.6"/><circle cx="562.1" cy="523.33" r="2.6"/><circle cx="563.18" cy="523.34" r="2.6"/><circle cx="564.25" cy="524.99" r="2.6"/><circle cx="565.3" cy="522.18" r="2.6"/><circle cx="566.32" cy="525.8" r="2.6"/><circle cx="567.34" cy="525.92" r="2.6"/><circle cx="568.33" cy="525.96" r="2.6"/><circle cx="569.31" cy="528.67" r="2.6"/><circle cx="570.27" cy="527.55" r="2.6"/><circle cx="571.22" cy="528.23" r="2.6"/><circle cx="572.16" cy="528.46" r="2.6"/><circle cx="573.08" cy="529.35" r="2.6"/><circle cx="573.98" cy="530.06" r="2.6"/><circle cx="575.09" cy="529.58" r="2.6"/><circle cx="576.19" cy="530.86" r="2.6"/><circle cx="577.26" cy="531.07" r="2.6"/><circle cx="578.31" cy="529.46" r="2.6"/><circle cx="579.35" cy="532.66" r="2.6"/><circle cx="580.37" cy="532.83" r="2.6"/><circle cx="581.37" cy="532.8" r="2.6"/><circle cx="582.36" cy="533.18" r="2.6"/><circle cx="583.33" cy="532.08" r="2.6"/><circle cx="584.28" cy="534.32" r="2.6"/><circle cx="585.22" cy="532.99" r="2.6"/><circle cx="586.15" cy="533.68" r="2.6"/><circle cx="587.06" cy="535.7" r="2.6"/><circle cx="588.14" cy="535.46" r="2.6"/><circle cx="589.19" cy="537.01" r="2.6"/><circle cx="590.23" cy="535.47" r="2.6"/><circle cx="591.25" cy="535.43" r="2.6"/><circle cx="592.26" cy="536.14" r="2.6"/><circle cx="593.25" cy="534.89" r="2.6"/><circle cx="594.22" cy="537.24" r="2.6"/><circle cx="595.17" cy="536.91" r="2.6"/><circle cx="596.12" cy="538.02" r="2.6"/><circle cx="597.04" cy="537.62" r="2.6"/><circle cx="597.96" cy="537.18" r="2.6"/><circle cx="599" cy="537.64" r="2.6"/><circle cx="600.03" cy="538.52" r="2.6"/><circle cx="601.05" cy="538.97" r="2.6"/><circle cx="602.04" cy="538.3" r="2.6"/><circle cx="603.02" cy="540.19" r="2.6"/><circle cx="603.99" cy="540.3" r="2.6"/><circle cx="604.94" cy="540.05" r="2.6"/><circle cx="605.87" cy="541.42" r="2.6"/><circle cx="606.4" cy="537.65" r="2.6"/><circle cx="606.92" cy="541.25" r="2.6"/><circle cx="607.44" cy="540.14" r="2.6"/><circle cx="607.96" cy="539.79" r="2.6"/><circle cx="608.46" cy="539.31" r="2.6"/><circle cx="608.97" cy="539.59" r="2.6"/><circle cx="609.47" cy="538.16" r="2.6"/><circle cx="609.97" cy="539.87" r="2.6"/><circle cx="610.46" cy="538.72" r="2.6"/><circle cx="610.95" cy="539.47" r="2.6"/><circle cx="611.44" cy="540.47" r="2.6"/><circle cx="611.92" cy="539.91" r="2.6"/><circle cx="612.4" cy="537.85" r="2.6"/><circle cx="612.87" cy="539.08" r="2.6"/><circle cx="613.34" cy="539.44" r="2.6"/><circle cx="613.81" cy="540.13" r="2.6"/><circle cx="614.27" cy="537.67" r="2.6"/><circle cx="614.73" cy="539.14" r="2.6"/><circle cx="615.18" cy="542.61" r="2.6"/><circle cx="615.64" cy="545.57" r="2.6"/><circle cx="616.2" cy="539.14" r="2.6"/><circle cx="616.75" cy="539.64" r="2.6"/><circle cx="617.3" cy="542.45" r="2.6"/><circle cx="617.85" cy="535.7" r="2.6"/><circle cx="618.39" cy="539.56" r="2.6"/><circle cx="618.93" cy="535.59" r="2.6"/><circle cx="619.46" cy="542.14" r="2.6"/><circle cx="619.98" cy="543.35" r="2.6"/><circle cx="620.51" cy="540.94" r="2.6"/><circle cx="621.02" cy="538.23" r="2.6"/><circle cx="621.54" cy="542.39" r="2.6"/><circle cx="622.05" cy="549.16" r="2.6"/><circle cx="622.55" cy="545.58" r="2.6"/><circle cx="623.05" cy="539.79" r="2.6"/><circle cx="623.55" cy="534.55" r="2.6"/><circle cx="622.2" cy="563.9" r="2.6"/><circle cx="620.6" cy="555.5" r="2.6"/><circle cx="617" cy="553" r="2.6"/><circle cx="623" cy="548.5" r="2.6"/><circle cx="625" cy="551" r="2.6"/><circle cx="618.5" cy="547" r="2.6"/><circle cx="614" cy="545" r="2.6"/><circle cx="623.7" cy="532.6" r="2.6"/><circle cx="620" cy="533.5" r="2.6"/><circle cx="616" cy="534" r="2.6"/><circle cx="611" cy="533.2" r="2.6"/><circle cx="607" cy="533.8" r="2.6"/>
</g>
<polyline fill="none" stroke="#1f3e6e" stroke-width="1.2" stroke-linejoin="round" points="406.9,458.9 418.5,465.2 430,471.3 470,490.4 500,503.2 529.7,515.8 536.4,517.7 538.6,522.5 539.7,526.4 542.6,519 545.6,526 547.8,521.2 552,522.5"/>
<g fill="none" stroke="#e9a3a3" stroke-width="1">
<circle cx="437.8" cy="527.9" r="2.6"/><circle cx="442.5" cy="498.6" r="2.6"/><circle cx="446.6" cy="469.6" r="2.6"/><circle cx="449.9" cy="458.84" r="2.6"/><circle cx="453.64" cy="459.81" r="2.6"/><circle cx="457.17" cy="461.68" r="2.6"/><circle cx="460.5" cy="463.61" r="2.6"/><circle cx="463.65" cy="465.95" r="2.6"/><circle cx="466.65" cy="467.27" r="2.6"/><circle cx="469.51" cy="469.07" r="2.6"/><circle cx="472.23" cy="470.49" r="2.6"/><circle cx="474.84" cy="471.84" r="2.6"/><circle cx="477.35" cy="473.17" r="2.6"/><circle cx="479.75" cy="474.24" r="2.6"/><circle cx="482.06" cy="475.6" r="2.6"/><circle cx="484.28" cy="476.53" r="2.6"/><circle cx="486.43" cy="478.72" r="2.6"/><circle cx="488.5" cy="479.57" r="2.6"/><circle cx="490.5" cy="479.41" r="2.6"/><circle cx="492.44" cy="483.43" r="2.6"/><circle cx="494.32" cy="483.78" r="2.6"/><circle cx="496.14" cy="484.81" r="2.6"/><circle cx="497.91" cy="486.62" r="2.6"/><circle cx="499.63" cy="487.76" r="2.6"/><circle cx="501.3" cy="488.78" r="2.6"/><circle cx="502.93" cy="489.35" r="2.6"/><circle cx="504.51" cy="491.07" r="2.6"/><circle cx="506.05" cy="491.1" r="2.6"/><circle cx="507.56" cy="493.95" r="2.6"/><circle cx="509.02" cy="493.36" r="2.6"/><circle cx="510.46" cy="495" r="2.6"/><circle cx="511.86" cy="496.12" r="2.6"/><circle cx="513.22" cy="497.19" r="2.6"/><circle cx="514.56" cy="497.69" r="2.6"/><circle cx="515.87" cy="499.47" r="2.6"/><circle cx="517.15" cy="495.4" r="2.6"/><circle cx="518.4" cy="500.34" r="2.6"/><circle cx="519.63" cy="501.11" r="2.6"/><circle cx="520.84" cy="501.59" r="2.6"/><circle cx="522.02" cy="504.74" r="2.6"/><circle cx="523.18" cy="502.5" r="2.6"/><circle cx="524.31" cy="504.33" r="2.6"/><circle cx="525.43" cy="502.7" r="2.6"/><circle cx="526.52" cy="506.16" r="2.6"/><circle cx="527.6" cy="504.54" r="2.6"/><circle cx="528.65" cy="505.25" r="2.6"/><circle cx="529.69" cy="510.62" r="2.6"/><circle cx="530.71" cy="509.26" r="2.6"/><circle cx="531.72" cy="509.01" r="2.6"/><circle cx="532.7" cy="509.83" r="2.6"/><circle cx="533.68" cy="508.47" r="2.6"/><circle cx="534.63" cy="509.52" r="2.6"/><circle cx="535.57" cy="511.87" r="2.6"/><circle cx="536.5" cy="509.35" r="2.6"/><circle cx="537.41" cy="512.79" r="2.6"/><circle cx="539.2" cy="513.66" r="2.6"/><circle cx="540.93" cy="516.66" r="2.6"/><circle cx="542.62" cy="514.87" r="2.6"/><circle cx="544.26" cy="515.48" r="2.6"/><circle cx="545.85" cy="516.13" r="2.6"/><circle cx="547.41" cy="519.41" r="2.6"/><circle cx="548.92" cy="518.5" r="2.6"/><circle cx="550.4" cy="519.48" r="2.6"/><circle cx="551.85" cy="520.22" r="2.6"/><circle cx="553.26" cy="521.02" r="2.6"/><circle cx="554.63" cy="522.2" r="2.6"/><circle cx="555.98" cy="521.67" r="2.6"/><circle cx="557.3" cy="524.43" r="2.6"/><circle cx="558.59" cy="524.11" r="2.6"/><circle cx="559.85" cy="524.56" r="2.6"/><circle cx="561.09" cy="523.6" r="2.6"/><circle cx="562.3" cy="525.28" r="2.6"/><circle cx="563.49" cy="525.62" r="2.6"/><circle cx="564.65" cy="525.57" r="2.6"/><circle cx="565.8" cy="529.15" r="2.6"/><circle cx="566.92" cy="528.07" r="2.6"/><circle cx="568.02" cy="526.93" r="2.6"/><circle cx="569.1" cy="530.54" r="2.6"/><circle cx="570.16" cy="529.52" r="2.6"/><circle cx="571.21" cy="529.34" r="2.6"/><circle cx="572.23" cy="531.14" r="2.6"/><circle cx="573.24" cy="531.47" r="2.6"/><circle cx="574.23" cy="530.7" r="2.6"/><circle cx="575.21" cy="530.91" r="2.6"/><circle cx="576.17" cy="530.53" r="2.6"/><circle cx="577.12" cy="533.24" r="2.6"/><circle cx="578.05" cy="532.15" r="2.6"/><circle cx="578.97" cy="532.23" r="2.6"/><circle cx="579.87" cy="532.86" r="2.6"/><circle cx="581.2" cy="533.94" r="2.6"/><circle cx="582.5" cy="533.84" r="2.6"/><circle cx="583.78" cy="535.69" r="2.6"/><circle cx="585.02" cy="533.05" r="2.6"/><circle cx="586.25" cy="534.34" r="2.6"/><circle cx="587.45" cy="536.08" r="2.6"/><circle cx="588.62" cy="534.65" r="2.6"/><circle cx="589.77" cy="535.98" r="2.6"/><circle cx="590.9" cy="535.42" r="2.6"/><circle cx="592.01" cy="536.91" r="2.6"/><circle cx="593.1" cy="537.76" r="2.6"/><circle cx="594.17" cy="538.34" r="2.6"/><circle cx="595.23" cy="541.22" r="2.6"/><circle cx="596.26" cy="539.26" r="2.6"/><circle cx="597.28" cy="536.71" r="2.6"/><circle cx="598.28" cy="537.61" r="2.6"/><circle cx="599.26" cy="539.08" r="2.6"/><circle cx="600.23" cy="539.32" r="2.6"/><circle cx="601.18" cy="539.85" r="2.6"/><circle cx="602.12" cy="540.3" r="2.6"/><circle cx="603.04" cy="539.06" r="2.6"/><circle cx="603.95" cy="542.45" r="2.6"/><circle cx="605.14" cy="540.78" r="2.6"/><circle cx="606.02" cy="538.22" r="2.6"/><circle cx="606.6" cy="538.31" r="2.6"/><circle cx="607.17" cy="542.16" r="2.6"/><circle cx="607.74" cy="541.86" r="2.6"/><circle cx="608.3" cy="541.13" r="2.6"/><circle cx="608.86" cy="539.61" r="2.6"/><circle cx="609.41" cy="540.88" r="2.6"/><circle cx="609.96" cy="541.32" r="2.6"/><circle cx="610.5" cy="541.84" r="2.6"/><circle cx="611.04" cy="544.18" r="2.6"/><circle cx="611.57" cy="540.24" r="2.6"/><circle cx="612.1" cy="540.93" r="2.6"/><circle cx="612.62" cy="542.16" r="2.6"/><circle cx="613.14" cy="542.44" r="2.6"/><circle cx="613.66" cy="544.09" r="2.6"/><circle cx="614.17" cy="542.71" r="2.6"/><circle cx="614.67" cy="543.8" r="2.6"/><circle cx="615.18" cy="537.87" r="2.6"/><circle cx="615.67" cy="545.12" r="2.6"/><circle cx="616.17" cy="544.35" r="2.6"/><circle cx="616.66" cy="541.88" r="2.6"/><circle cx="617.14" cy="544.87" r="2.6"/><circle cx="617.62" cy="544.12" r="2.6"/><circle cx="618.1" cy="543.21" r="2.6"/><circle cx="618.58" cy="541.46" r="2.6"/><circle cx="619.05" cy="539.09" r="2.6"/><circle cx="619.51" cy="538.67" r="2.6"/><circle cx="619.98" cy="541.78" r="2.6"/><circle cx="620.44" cy="544.23" r="2.6"/><circle cx="620.89" cy="541.14" r="2.6"/><circle cx="621.35" cy="542.88" r="2.6"/><circle cx="622.02" cy="538.46" r="2.6"/><circle cx="622.68" cy="543.26" r="2.6"/><circle cx="623.34" cy="539.71" r="2.6"/><circle cx="623.99" cy="541.15" r="2.6"/><circle cx="624.64" cy="535.7" r="2.6"/><circle cx="625.27" cy="544.07" r="2.6"/><circle cx="625.91" cy="540.59" r="2.6"/><circle cx="626.53" cy="544.89" r="2.6"/><circle cx="627.15" cy="543.89" r="2.6"/><circle cx="627.76" cy="538.86" r="2.6"/><circle cx="628.36" cy="533.9" r="2.6"/><circle cx="628.96" cy="544.18" r="2.6"/><circle cx="629.56" cy="537.75" r="2.6"/><circle cx="630.15" cy="543.62" r="2.6"/><circle cx="630.73" cy="546.76" r="2.6"/><circle cx="631.3" cy="548.57" r="2.6"/><circle cx="631.87" cy="539.93" r="2.6"/><circle cx="632.44" cy="545.43" r="2.6"/><circle cx="633" cy="541.29" r="2.6"/><circle cx="633.56" cy="542.27" r="2.6"/><circle cx="634.11" cy="543.89" r="2.6"/><circle cx="634.65" cy="543.61" r="2.6"/><circle cx="635.19" cy="545.91" r="2.6"/><circle cx="635.73" cy="544.27" r="2.6"/><circle cx="636.26" cy="542.53" r="2.6"/><circle cx="636.78" cy="540.61" r="2.6"/><circle cx="637.31" cy="536.48" r="2.6"/><circle cx="637.82" cy="535.78" r="2.6"/><circle cx="638.34" cy="539.31" r="2.6"/><circle cx="638.84" cy="539.43" r="2.6"/><circle cx="639.35" cy="537.51" r="2.6"/><circle cx="639.85" cy="544.19" r="2.6"/><circle cx="640.35" cy="544.26" r="2.6"/><circle cx="640.84" cy="530.11" r="2.6"/><circle cx="641.33" cy="535.59" r="2.6"/><circle cx="641.81" cy="543.56" r="2.6"/><circle cx="642.29" cy="543.95" r="2.6"/><circle cx="642.77" cy="541.33" r="2.6"/><circle cx="643.24" cy="540.24" r="2.6"/><circle cx="643.71" cy="538.69" r="2.6"/><circle cx="644.17" cy="546.88" r="2.6"/><circle cx="644.63" cy="545.84" r="2.6"/><circle cx="645.09" cy="527.85" r="2.6"/><circle cx="645.55" cy="545.13" r="2.6"/><circle cx="646" cy="527.65" r="2.6"/><circle cx="646.6" cy="531.21" r="2.6"/><circle cx="647.19" cy="536.94" r="2.6"/><circle cx="647.77" cy="549.89" r="2.6"/><circle cx="648.35" cy="532.91" r="2.6"/><circle cx="648.93" cy="545.9" r="2.6"/><circle cx="649.49" cy="523.33" r="2.6"/><circle cx="650.06" cy="529.29" r="2.6"/><circle cx="650.62" cy="542.32" r="2.6"/><circle cx="651.17" cy="544.36" r="2.6"/><circle cx="651.72" cy="541.88" r="2.6"/><circle cx="652.26" cy="530.09" r="2.6"/><circle cx="652.8" cy="522.84" r="2.6"/><circle cx="653.33" cy="534.46" r="2.6"/><circle cx="653.86" cy="528.22" r="2.6"/><circle cx="654.38" cy="535.8" r="2.6"/><circle cx="654.9" cy="535.73" r="2.6"/><circle cx="655.42" cy="539.06" r="2.6"/><circle cx="654.5" cy="565.3" r="2.6"/><circle cx="655.5" cy="523" r="2.6"/><circle cx="655.5" cy="530.7" r="2.6"/><circle cx="655.5" cy="535.4" r="2.6"/><circle cx="655.5" cy="541.6" r="2.6"/><circle cx="655.5" cy="548.2" r="2.6"/><circle cx="649.3" cy="529.5" r="2.6"/><circle cx="649" cy="548" r="2.6"/><circle cx="634" cy="549" r="2.6"/><circle cx="630" cy="550.5" r="2.6"/><circle cx="639" cy="535" r="2.6"/>
</g>
<polyline fill="none" stroke="#b3181b" stroke-width="1.5" stroke-linejoin="round" points="466.1,464.4 479.3,474.1 483.6,474.9 486.3,489.8 490.4,474.9 492.7,484 500,488.2 526.4,506.2 529,501.7 530.4,523.2 531.6,508.8 552.3,521.9 554.1,520 553.9,539.4 555.6,525.6 570.5,534.5 571.6,532 572,538.6 573.1,536.4 575,536.9 584.5,540.2 590,540.6 658.5,540.6"/>
<circle cx="412.1" cy="548.5" r="19.9" fill="#66b9cd"/>
<circle cx="412.1" cy="548.5" r="12.1" fill="#e39c9e"/>
</svg></body></html>
